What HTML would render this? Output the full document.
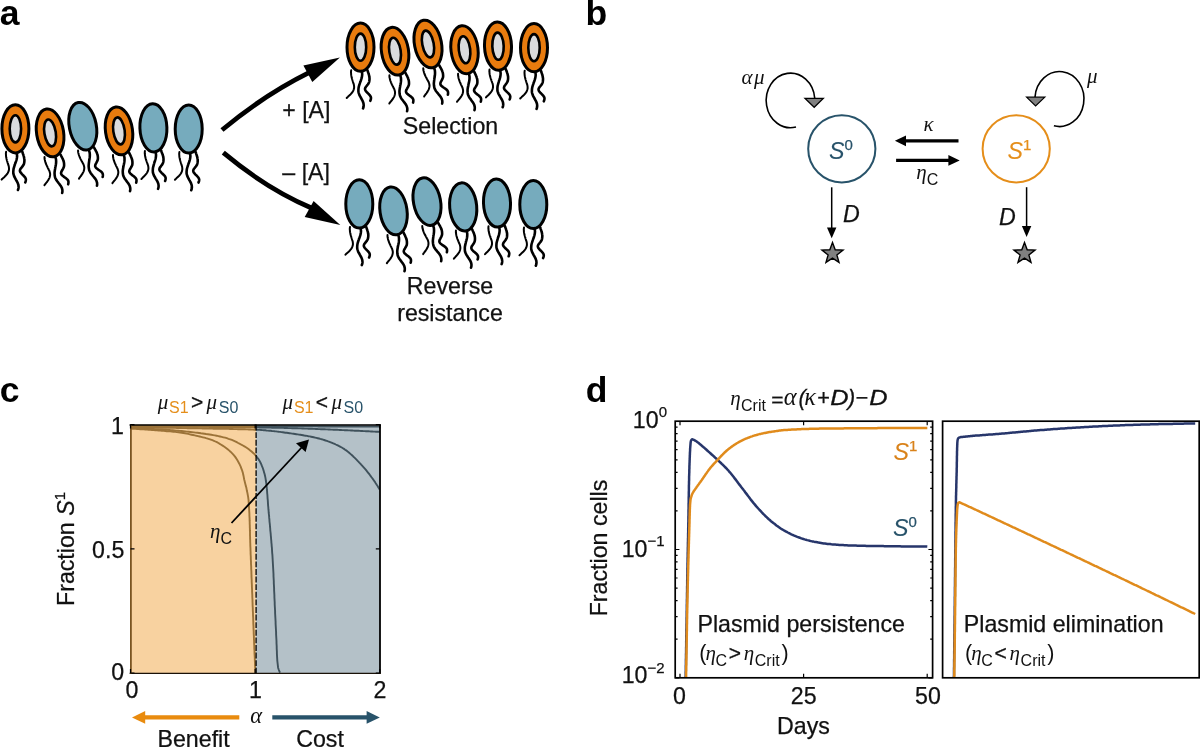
<!DOCTYPE html>
<html><head><meta charset="utf-8"><title>Figure</title>
<style>
html,body{margin:0;padding:0;background:#fff;}
svg{display:block}
.t{font-family:"Liberation Sans",sans-serif;font-size:23.2px;font-style:normal;fill:currentColor;stroke:currentColor;stroke-width:.25px}
.ti{font-family:"Liberation Sans",sans-serif;font-size:23.2px;font-style:italic;fill:currentColor;stroke:currentColor;stroke-width:.25px}
.g{font-family:"Liberation Serif",serif;font-size:21px;font-style:italic;fill:currentColor;stroke:none}
.sup{font-family:"Liberation Sans",sans-serif;font-size:15px;font-style:normal;stroke-width:.25px}
.subn{font-family:"Liberation Sans",sans-serif;font-size:16px;font-style:normal;stroke-width:.3px}
.lab{font-family:"Liberation Sans",sans-serif;font-size:35.5px;font-weight:bold;fill:#000}
.p{font-family:"Liberation Sans",sans-serif;font-size:21.5px;fill:currentColor}
.op{font-family:"Liberation Sans",sans-serif;font-size:21px;font-style:normal;fill:currentColor;stroke:currentColor;stroke-width:.3px}
.tit{font-family:"Liberation Sans",sans-serif;font-size:21.5px;font-style:italic;fill:currentColor;stroke:currentColor;stroke-width:.3px}
.g2{font-size:24.5px}
svg{color:#111}
</style></head><body>
<svg width="1200" height="747" viewBox="0 0 1200 747">
<rect width="1200" height="747" fill="#fff"/>
<g id="panel-a">
<g transform="translate(15.4,128.8) rotate(0)"><g fill="none" stroke="#000" stroke-width="2.6" stroke-linecap="round" stroke-linejoin="round"><path d="M-9.3,23.0 L-9.4,23.8 L-9.5,24.6 L-9.5,25.4 L-9.4,26.2 L-9.4,27.0 L-9.3,27.8 L-9.2,28.5 L-9.0,29.3 L-8.9,30.1 L-8.7,30.8 L-8.5,31.6 L-8.3,32.3 L-8.0,33.1 L-7.8,33.9 L-7.6,34.6 L-7.3,35.4 L-7.1,36.2 L-6.8,36.9 L-6.6,37.7 L-6.5,38.5 L-6.4,39.3 L-6.4,40.0 L-6.4,40.8 L-6.6,41.6 L-6.8,42.4 L-7.1,43.1 L-7.4,43.8 L-7.8,44.5 L-8.3,45.2 L-8.8,45.8 L-9.3,46.4 L-9.8,47.0 L-10.4,47.5 L-10.9,48.1 L-11.5,48.6 L-12.1,49.1 L-12.7,49.7 L-13.3,50.2 L-13.8,50.8" stroke-width="2"/><path d="M1.3,24.0 L1.5,25.1 L1.6,26.1 L1.7,27.2 L1.6,28.2 L1.5,29.1 L1.3,30.1 L1.1,31.0 L0.8,32.0 L0.5,32.9 L0.2,33.8 L-0.2,34.7 L-0.5,35.7 L-0.8,36.6 L-1.1,37.5 L-1.4,38.5 L-1.7,39.5 L-1.9,40.5 L-2.0,41.5 L-2.1,42.5 L-2.1,43.4 L-2.1,44.4 L-1.9,45.4 L-1.6,46.3 L-1.3,47.3 L-0.9,48.2 L-0.4,49.1 L0.1,50.0 L0.5,50.8 L1.0,51.7 L1.5,52.6 L2.0,53.5 L2.4,54.4 L2.7,55.3 L3.0,56.2 L3.1,57.2 L3.2,58.2 L3.1,59.1 L2.9,60.2 L2.5,61.2"/><path d="M6.9,23.0 L7.2,23.8 L7.4,24.6 L7.7,25.4 L8.0,26.2 L8.2,27.0 L8.5,27.9 L8.7,28.8 L8.8,29.7 L9.0,30.5 L9.0,31.4 L9.0,32.3 L8.9,33.2 L8.8,34.0 L8.6,34.9 L8.3,35.7 L7.8,36.5 L7.3,37.3 L6.7,38.0 L6.1,38.8 L5.5,39.5 L5.0,40.2 L4.7,40.9 L4.5,41.7 L4.6,42.4 L4.9,43.2 L5.4,43.9 L6.0,44.6 L6.6,45.3 L7.3,46.0 L8.0,46.7 L8.6,47.3 L9.2,48.0 L9.7,48.6 L10.1,49.3 L10.4,50.1 L10.5,50.8 L10.4,51.7 L10.2,52.6 L9.8,53.6"/></g><ellipse rx="13.5" ry="24.1" fill="#e87b0e" stroke="#000" stroke-width="3"/><ellipse rx="5.7" ry="13.6" fill="#dadbdd" stroke="#000" stroke-width="2.6"/></g>
<g transform="translate(50.1,132.9) rotate(-9)"><g fill="none" stroke="#000" stroke-width="2.6" stroke-linecap="round" stroke-linejoin="round"><path d="M-9.3,23.0 L-9.4,23.8 L-9.5,24.6 L-9.5,25.4 L-9.4,26.2 L-9.4,27.0 L-9.3,27.8 L-9.2,28.5 L-9.0,29.3 L-8.9,30.1 L-8.7,30.8 L-8.5,31.6 L-8.3,32.3 L-8.0,33.1 L-7.8,33.9 L-7.6,34.6 L-7.3,35.4 L-7.1,36.2 L-6.8,36.9 L-6.6,37.7 L-6.5,38.5 L-6.4,39.3 L-6.4,40.0 L-6.4,40.8 L-6.6,41.6 L-6.8,42.4 L-7.1,43.1 L-7.4,43.8 L-7.8,44.5 L-8.3,45.2 L-8.8,45.8 L-9.3,46.4 L-9.8,47.0 L-10.4,47.5 L-10.9,48.1 L-11.5,48.6 L-12.1,49.1 L-12.7,49.7 L-13.3,50.2 L-13.8,50.8" stroke-width="2"/><path d="M1.3,24.0 L1.5,25.1 L1.6,26.1 L1.7,27.2 L1.6,28.2 L1.5,29.1 L1.3,30.1 L1.1,31.0 L0.8,32.0 L0.5,32.9 L0.2,33.8 L-0.2,34.7 L-0.5,35.7 L-0.8,36.6 L-1.1,37.5 L-1.4,38.5 L-1.7,39.5 L-1.9,40.5 L-2.0,41.5 L-2.1,42.5 L-2.1,43.4 L-2.1,44.4 L-1.9,45.4 L-1.6,46.3 L-1.3,47.3 L-0.9,48.2 L-0.4,49.1 L0.1,50.0 L0.5,50.8 L1.0,51.7 L1.5,52.6 L2.0,53.5 L2.4,54.4 L2.7,55.3 L3.0,56.2 L3.1,57.2 L3.2,58.2 L3.1,59.1 L2.9,60.2 L2.5,61.2"/><path d="M6.9,23.0 L7.2,23.8 L7.4,24.6 L7.7,25.4 L8.0,26.2 L8.2,27.0 L8.5,27.9 L8.7,28.8 L8.8,29.7 L9.0,30.5 L9.0,31.4 L9.0,32.3 L8.9,33.2 L8.8,34.0 L8.6,34.9 L8.3,35.7 L7.8,36.5 L7.3,37.3 L6.7,38.0 L6.1,38.8 L5.5,39.5 L5.0,40.2 L4.7,40.9 L4.5,41.7 L4.6,42.4 L4.9,43.2 L5.4,43.9 L6.0,44.6 L6.6,45.3 L7.3,46.0 L8.0,46.7 L8.6,47.3 L9.2,48.0 L9.7,48.6 L10.1,49.3 L10.4,50.1 L10.5,50.8 L10.4,51.7 L10.2,52.6 L9.8,53.6"/></g><ellipse rx="13.5" ry="24.1" fill="#e87b0e" stroke="#000" stroke-width="3"/><ellipse rx="5.7" ry="13.6" fill="#dadbdd" stroke="#000" stroke-width="2.6"/></g>
<g transform="translate(82.8,126.2) rotate(-11)"><g fill="none" stroke="#000" stroke-width="2.6" stroke-linecap="round" stroke-linejoin="round"><path d="M-9.3,23.0 L-9.4,23.8 L-9.5,24.6 L-9.5,25.4 L-9.4,26.2 L-9.4,27.0 L-9.3,27.8 L-9.2,28.5 L-9.0,29.3 L-8.9,30.1 L-8.7,30.8 L-8.5,31.6 L-8.3,32.3 L-8.0,33.1 L-7.8,33.9 L-7.6,34.6 L-7.3,35.4 L-7.1,36.2 L-6.8,36.9 L-6.6,37.7 L-6.5,38.5 L-6.4,39.3 L-6.4,40.0 L-6.4,40.8 L-6.6,41.6 L-6.8,42.4 L-7.1,43.1 L-7.4,43.8 L-7.8,44.5 L-8.3,45.2 L-8.8,45.8 L-9.3,46.4 L-9.8,47.0 L-10.4,47.5 L-10.9,48.1 L-11.5,48.6 L-12.1,49.1 L-12.7,49.7 L-13.3,50.2 L-13.8,50.8" stroke-width="2"/><path d="M1.3,24.0 L1.5,25.1 L1.6,26.1 L1.7,27.2 L1.6,28.2 L1.5,29.1 L1.3,30.1 L1.1,31.0 L0.8,32.0 L0.5,32.9 L0.2,33.8 L-0.2,34.7 L-0.5,35.7 L-0.8,36.6 L-1.1,37.5 L-1.4,38.5 L-1.7,39.5 L-1.9,40.5 L-2.0,41.5 L-2.1,42.5 L-2.1,43.4 L-2.1,44.4 L-1.9,45.4 L-1.6,46.3 L-1.3,47.3 L-0.9,48.2 L-0.4,49.1 L0.1,50.0 L0.5,50.8 L1.0,51.7 L1.5,52.6 L2.0,53.5 L2.4,54.4 L2.7,55.3 L3.0,56.2 L3.1,57.2 L3.2,58.2 L3.1,59.1 L2.9,60.2 L2.5,61.2"/><path d="M6.9,23.0 L7.2,23.8 L7.4,24.6 L7.7,25.4 L8.0,26.2 L8.2,27.0 L8.5,27.9 L8.7,28.8 L8.8,29.7 L9.0,30.5 L9.0,31.4 L9.0,32.3 L8.9,33.2 L8.8,34.0 L8.6,34.9 L8.3,35.7 L7.8,36.5 L7.3,37.3 L6.7,38.0 L6.1,38.8 L5.5,39.5 L5.0,40.2 L4.7,40.9 L4.5,41.7 L4.6,42.4 L4.9,43.2 L5.4,43.9 L6.0,44.6 L6.6,45.3 L7.3,46.0 L8.0,46.7 L8.6,47.3 L9.2,48.0 L9.7,48.6 L10.1,49.3 L10.4,50.1 L10.5,50.8 L10.4,51.7 L10.2,52.6 L9.8,53.6"/></g><ellipse rx="13.5" ry="24.1" fill="#76abbd" stroke="#000" stroke-width="3"/></g>
<g transform="translate(119,130.9) rotate(-8)"><g fill="none" stroke="#000" stroke-width="2.6" stroke-linecap="round" stroke-linejoin="round"><path d="M-9.3,23.0 L-9.4,23.8 L-9.5,24.6 L-9.5,25.4 L-9.4,26.2 L-9.4,27.0 L-9.3,27.8 L-9.2,28.5 L-9.0,29.3 L-8.9,30.1 L-8.7,30.8 L-8.5,31.6 L-8.3,32.3 L-8.0,33.1 L-7.8,33.9 L-7.6,34.6 L-7.3,35.4 L-7.1,36.2 L-6.8,36.9 L-6.6,37.7 L-6.5,38.5 L-6.4,39.3 L-6.4,40.0 L-6.4,40.8 L-6.6,41.6 L-6.8,42.4 L-7.1,43.1 L-7.4,43.8 L-7.8,44.5 L-8.3,45.2 L-8.8,45.8 L-9.3,46.4 L-9.8,47.0 L-10.4,47.5 L-10.9,48.1 L-11.5,48.6 L-12.1,49.1 L-12.7,49.7 L-13.3,50.2 L-13.8,50.8" stroke-width="2"/><path d="M1.3,24.0 L1.5,25.1 L1.6,26.1 L1.7,27.2 L1.6,28.2 L1.5,29.1 L1.3,30.1 L1.1,31.0 L0.8,32.0 L0.5,32.9 L0.2,33.8 L-0.2,34.7 L-0.5,35.7 L-0.8,36.6 L-1.1,37.5 L-1.4,38.5 L-1.7,39.5 L-1.9,40.5 L-2.0,41.5 L-2.1,42.5 L-2.1,43.4 L-2.1,44.4 L-1.9,45.4 L-1.6,46.3 L-1.3,47.3 L-0.9,48.2 L-0.4,49.1 L0.1,50.0 L0.5,50.8 L1.0,51.7 L1.5,52.6 L2.0,53.5 L2.4,54.4 L2.7,55.3 L3.0,56.2 L3.1,57.2 L3.2,58.2 L3.1,59.1 L2.9,60.2 L2.5,61.2"/><path d="M6.9,23.0 L7.2,23.8 L7.4,24.6 L7.7,25.4 L8.0,26.2 L8.2,27.0 L8.5,27.9 L8.7,28.8 L8.8,29.7 L9.0,30.5 L9.0,31.4 L9.0,32.3 L8.9,33.2 L8.8,34.0 L8.6,34.9 L8.3,35.7 L7.8,36.5 L7.3,37.3 L6.7,38.0 L6.1,38.8 L5.5,39.5 L5.0,40.2 L4.7,40.9 L4.5,41.7 L4.6,42.4 L4.9,43.2 L5.4,43.9 L6.0,44.6 L6.6,45.3 L7.3,46.0 L8.0,46.7 L8.6,47.3 L9.2,48.0 L9.7,48.6 L10.1,49.3 L10.4,50.1 L10.5,50.8 L10.4,51.7 L10.2,52.6 L9.8,53.6"/></g><ellipse rx="13.5" ry="24.1" fill="#e87b0e" stroke="#000" stroke-width="3"/><ellipse rx="5.7" ry="13.6" fill="#dadbdd" stroke="#000" stroke-width="2.6"/></g>
<g transform="translate(153.4,127.8) rotate(-2)"><g fill="none" stroke="#000" stroke-width="2.6" stroke-linecap="round" stroke-linejoin="round"><path d="M-9.3,23.0 L-9.4,23.8 L-9.5,24.6 L-9.5,25.4 L-9.4,26.2 L-9.4,27.0 L-9.3,27.8 L-9.2,28.5 L-9.0,29.3 L-8.9,30.1 L-8.7,30.8 L-8.5,31.6 L-8.3,32.3 L-8.0,33.1 L-7.8,33.9 L-7.6,34.6 L-7.3,35.4 L-7.1,36.2 L-6.8,36.9 L-6.6,37.7 L-6.5,38.5 L-6.4,39.3 L-6.4,40.0 L-6.4,40.8 L-6.6,41.6 L-6.8,42.4 L-7.1,43.1 L-7.4,43.8 L-7.8,44.5 L-8.3,45.2 L-8.8,45.8 L-9.3,46.4 L-9.8,47.0 L-10.4,47.5 L-10.9,48.1 L-11.5,48.6 L-12.1,49.1 L-12.7,49.7 L-13.3,50.2 L-13.8,50.8" stroke-width="2"/><path d="M1.3,24.0 L1.5,25.1 L1.6,26.1 L1.7,27.2 L1.6,28.2 L1.5,29.1 L1.3,30.1 L1.1,31.0 L0.8,32.0 L0.5,32.9 L0.2,33.8 L-0.2,34.7 L-0.5,35.7 L-0.8,36.6 L-1.1,37.5 L-1.4,38.5 L-1.7,39.5 L-1.9,40.5 L-2.0,41.5 L-2.1,42.5 L-2.1,43.4 L-2.1,44.4 L-1.9,45.4 L-1.6,46.3 L-1.3,47.3 L-0.9,48.2 L-0.4,49.1 L0.1,50.0 L0.5,50.8 L1.0,51.7 L1.5,52.6 L2.0,53.5 L2.4,54.4 L2.7,55.3 L3.0,56.2 L3.1,57.2 L3.2,58.2 L3.1,59.1 L2.9,60.2 L2.5,61.2"/><path d="M6.9,23.0 L7.2,23.8 L7.4,24.6 L7.7,25.4 L8.0,26.2 L8.2,27.0 L8.5,27.9 L8.7,28.8 L8.8,29.7 L9.0,30.5 L9.0,31.4 L9.0,32.3 L8.9,33.2 L8.8,34.0 L8.6,34.9 L8.3,35.7 L7.8,36.5 L7.3,37.3 L6.7,38.0 L6.1,38.8 L5.5,39.5 L5.0,40.2 L4.7,40.9 L4.5,41.7 L4.6,42.4 L4.9,43.2 L5.4,43.9 L6.0,44.6 L6.6,45.3 L7.3,46.0 L8.0,46.7 L8.6,47.3 L9.2,48.0 L9.7,48.6 L10.1,49.3 L10.4,50.1 L10.5,50.8 L10.4,51.7 L10.2,52.6 L9.8,53.6"/></g><ellipse rx="13.5" ry="24.1" fill="#76abbd" stroke="#000" stroke-width="3"/></g>
<g transform="translate(188.7,129) rotate(0)"><g fill="none" stroke="#000" stroke-width="2.6" stroke-linecap="round" stroke-linejoin="round"><path d="M-9.3,23.0 L-9.4,23.8 L-9.5,24.6 L-9.5,25.4 L-9.4,26.2 L-9.4,27.0 L-9.3,27.8 L-9.2,28.5 L-9.0,29.3 L-8.9,30.1 L-8.7,30.8 L-8.5,31.6 L-8.3,32.3 L-8.0,33.1 L-7.8,33.9 L-7.6,34.6 L-7.3,35.4 L-7.1,36.2 L-6.8,36.9 L-6.6,37.7 L-6.5,38.5 L-6.4,39.3 L-6.4,40.0 L-6.4,40.8 L-6.6,41.6 L-6.8,42.4 L-7.1,43.1 L-7.4,43.8 L-7.8,44.5 L-8.3,45.2 L-8.8,45.8 L-9.3,46.4 L-9.8,47.0 L-10.4,47.5 L-10.9,48.1 L-11.5,48.6 L-12.1,49.1 L-12.7,49.7 L-13.3,50.2 L-13.8,50.8" stroke-width="2"/><path d="M1.3,24.0 L1.5,25.1 L1.6,26.1 L1.7,27.2 L1.6,28.2 L1.5,29.1 L1.3,30.1 L1.1,31.0 L0.8,32.0 L0.5,32.9 L0.2,33.8 L-0.2,34.7 L-0.5,35.7 L-0.8,36.6 L-1.1,37.5 L-1.4,38.5 L-1.7,39.5 L-1.9,40.5 L-2.0,41.5 L-2.1,42.5 L-2.1,43.4 L-2.1,44.4 L-1.9,45.4 L-1.6,46.3 L-1.3,47.3 L-0.9,48.2 L-0.4,49.1 L0.1,50.0 L0.5,50.8 L1.0,51.7 L1.5,52.6 L2.0,53.5 L2.4,54.4 L2.7,55.3 L3.0,56.2 L3.1,57.2 L3.2,58.2 L3.1,59.1 L2.9,60.2 L2.5,61.2"/><path d="M6.9,23.0 L7.2,23.8 L7.4,24.6 L7.7,25.4 L8.0,26.2 L8.2,27.0 L8.5,27.9 L8.7,28.8 L8.8,29.7 L9.0,30.5 L9.0,31.4 L9.0,32.3 L8.9,33.2 L8.8,34.0 L8.6,34.9 L8.3,35.7 L7.8,36.5 L7.3,37.3 L6.7,38.0 L6.1,38.8 L5.5,39.5 L5.0,40.2 L4.7,40.9 L4.5,41.7 L4.6,42.4 L4.9,43.2 L5.4,43.9 L6.0,44.6 L6.6,45.3 L7.3,46.0 L8.0,46.7 L8.6,47.3 L9.2,48.0 L9.7,48.6 L10.1,49.3 L10.4,50.1 L10.5,50.8 L10.4,51.7 L10.2,52.6 L9.8,53.6"/></g><ellipse rx="13.5" ry="24.1" fill="#76abbd" stroke="#000" stroke-width="3"/></g>
<g transform="translate(360.5,47.2) rotate(0)"><g fill="none" stroke="#000" stroke-width="2.6" stroke-linecap="round" stroke-linejoin="round"><path d="M-9.3,23.0 L-9.4,23.8 L-9.5,24.6 L-9.5,25.4 L-9.4,26.2 L-9.4,27.0 L-9.3,27.8 L-9.2,28.5 L-9.0,29.3 L-8.9,30.1 L-8.7,30.8 L-8.5,31.6 L-8.3,32.3 L-8.0,33.1 L-7.8,33.9 L-7.6,34.6 L-7.3,35.4 L-7.1,36.2 L-6.8,36.9 L-6.6,37.7 L-6.5,38.5 L-6.4,39.3 L-6.4,40.0 L-6.4,40.8 L-6.6,41.6 L-6.8,42.4 L-7.1,43.1 L-7.4,43.8 L-7.8,44.5 L-8.3,45.2 L-8.8,45.8 L-9.3,46.4 L-9.8,47.0 L-10.4,47.5 L-10.9,48.1 L-11.5,48.6 L-12.1,49.1 L-12.7,49.7 L-13.3,50.2 L-13.8,50.8" stroke-width="2"/><path d="M1.3,24.0 L1.5,25.1 L1.6,26.1 L1.7,27.2 L1.6,28.2 L1.5,29.1 L1.3,30.1 L1.1,31.0 L0.8,32.0 L0.5,32.9 L0.2,33.8 L-0.2,34.7 L-0.5,35.7 L-0.8,36.6 L-1.1,37.5 L-1.4,38.5 L-1.7,39.5 L-1.9,40.5 L-2.0,41.5 L-2.1,42.5 L-2.1,43.4 L-2.1,44.4 L-1.9,45.4 L-1.6,46.3 L-1.3,47.3 L-0.9,48.2 L-0.4,49.1 L0.1,50.0 L0.5,50.8 L1.0,51.7 L1.5,52.6 L2.0,53.5 L2.4,54.4 L2.7,55.3 L3.0,56.2 L3.1,57.2 L3.2,58.2 L3.1,59.1 L2.9,60.2 L2.5,61.2"/><path d="M6.9,23.0 L7.2,23.8 L7.4,24.6 L7.7,25.4 L8.0,26.2 L8.2,27.0 L8.5,27.9 L8.7,28.8 L8.8,29.7 L9.0,30.5 L9.0,31.4 L9.0,32.3 L8.9,33.2 L8.8,34.0 L8.6,34.9 L8.3,35.7 L7.8,36.5 L7.3,37.3 L6.7,38.0 L6.1,38.8 L5.5,39.5 L5.0,40.2 L4.7,40.9 L4.5,41.7 L4.6,42.4 L4.9,43.2 L5.4,43.9 L6.0,44.6 L6.6,45.3 L7.3,46.0 L8.0,46.7 L8.6,47.3 L9.2,48.0 L9.7,48.6 L10.1,49.3 L10.4,50.1 L10.5,50.8 L10.4,51.7 L10.2,52.6 L9.8,53.6"/></g><ellipse rx="13.5" ry="24.1" fill="#e87b0e" stroke="#000" stroke-width="3"/><ellipse rx="5.7" ry="13.6" fill="#dadbdd" stroke="#000" stroke-width="2.6"/></g>
<g transform="translate(395,51.2) rotate(-9)"><g fill="none" stroke="#000" stroke-width="2.6" stroke-linecap="round" stroke-linejoin="round"><path d="M-9.3,23.0 L-9.4,23.8 L-9.5,24.6 L-9.5,25.4 L-9.4,26.2 L-9.4,27.0 L-9.3,27.8 L-9.2,28.5 L-9.0,29.3 L-8.9,30.1 L-8.7,30.8 L-8.5,31.6 L-8.3,32.3 L-8.0,33.1 L-7.8,33.9 L-7.6,34.6 L-7.3,35.4 L-7.1,36.2 L-6.8,36.9 L-6.6,37.7 L-6.5,38.5 L-6.4,39.3 L-6.4,40.0 L-6.4,40.8 L-6.6,41.6 L-6.8,42.4 L-7.1,43.1 L-7.4,43.8 L-7.8,44.5 L-8.3,45.2 L-8.8,45.8 L-9.3,46.4 L-9.8,47.0 L-10.4,47.5 L-10.9,48.1 L-11.5,48.6 L-12.1,49.1 L-12.7,49.7 L-13.3,50.2 L-13.8,50.8" stroke-width="2"/><path d="M1.3,24.0 L1.5,25.1 L1.6,26.1 L1.7,27.2 L1.6,28.2 L1.5,29.1 L1.3,30.1 L1.1,31.0 L0.8,32.0 L0.5,32.9 L0.2,33.8 L-0.2,34.7 L-0.5,35.7 L-0.8,36.6 L-1.1,37.5 L-1.4,38.5 L-1.7,39.5 L-1.9,40.5 L-2.0,41.5 L-2.1,42.5 L-2.1,43.4 L-2.1,44.4 L-1.9,45.4 L-1.6,46.3 L-1.3,47.3 L-0.9,48.2 L-0.4,49.1 L0.1,50.0 L0.5,50.8 L1.0,51.7 L1.5,52.6 L2.0,53.5 L2.4,54.4 L2.7,55.3 L3.0,56.2 L3.1,57.2 L3.2,58.2 L3.1,59.1 L2.9,60.2 L2.5,61.2"/><path d="M6.9,23.0 L7.2,23.8 L7.4,24.6 L7.7,25.4 L8.0,26.2 L8.2,27.0 L8.5,27.9 L8.7,28.8 L8.8,29.7 L9.0,30.5 L9.0,31.4 L9.0,32.3 L8.9,33.2 L8.8,34.0 L8.6,34.9 L8.3,35.7 L7.8,36.5 L7.3,37.3 L6.7,38.0 L6.1,38.8 L5.5,39.5 L5.0,40.2 L4.7,40.9 L4.5,41.7 L4.6,42.4 L4.9,43.2 L5.4,43.9 L6.0,44.6 L6.6,45.3 L7.3,46.0 L8.0,46.7 L8.6,47.3 L9.2,48.0 L9.7,48.6 L10.1,49.3 L10.4,50.1 L10.5,50.8 L10.4,51.7 L10.2,52.6 L9.8,53.6"/></g><ellipse rx="13.5" ry="24.1" fill="#e87b0e" stroke="#000" stroke-width="3"/><ellipse rx="5.7" ry="13.6" fill="#dadbdd" stroke="#000" stroke-width="2.6"/></g>
<g transform="translate(428,44) rotate(-11)"><g fill="none" stroke="#000" stroke-width="2.6" stroke-linecap="round" stroke-linejoin="round"><path d="M-9.3,23.0 L-9.4,23.8 L-9.5,24.6 L-9.5,25.4 L-9.4,26.2 L-9.4,27.0 L-9.3,27.8 L-9.2,28.5 L-9.0,29.3 L-8.9,30.1 L-8.7,30.8 L-8.5,31.6 L-8.3,32.3 L-8.0,33.1 L-7.8,33.9 L-7.6,34.6 L-7.3,35.4 L-7.1,36.2 L-6.8,36.9 L-6.6,37.7 L-6.5,38.5 L-6.4,39.3 L-6.4,40.0 L-6.4,40.8 L-6.6,41.6 L-6.8,42.4 L-7.1,43.1 L-7.4,43.8 L-7.8,44.5 L-8.3,45.2 L-8.8,45.8 L-9.3,46.4 L-9.8,47.0 L-10.4,47.5 L-10.9,48.1 L-11.5,48.6 L-12.1,49.1 L-12.7,49.7 L-13.3,50.2 L-13.8,50.8" stroke-width="2"/><path d="M1.3,24.0 L1.5,25.1 L1.6,26.1 L1.7,27.2 L1.6,28.2 L1.5,29.1 L1.3,30.1 L1.1,31.0 L0.8,32.0 L0.5,32.9 L0.2,33.8 L-0.2,34.7 L-0.5,35.7 L-0.8,36.6 L-1.1,37.5 L-1.4,38.5 L-1.7,39.5 L-1.9,40.5 L-2.0,41.5 L-2.1,42.5 L-2.1,43.4 L-2.1,44.4 L-1.9,45.4 L-1.6,46.3 L-1.3,47.3 L-0.9,48.2 L-0.4,49.1 L0.1,50.0 L0.5,50.8 L1.0,51.7 L1.5,52.6 L2.0,53.5 L2.4,54.4 L2.7,55.3 L3.0,56.2 L3.1,57.2 L3.2,58.2 L3.1,59.1 L2.9,60.2 L2.5,61.2"/><path d="M6.9,23.0 L7.2,23.8 L7.4,24.6 L7.7,25.4 L8.0,26.2 L8.2,27.0 L8.5,27.9 L8.7,28.8 L8.8,29.7 L9.0,30.5 L9.0,31.4 L9.0,32.3 L8.9,33.2 L8.8,34.0 L8.6,34.9 L8.3,35.7 L7.8,36.5 L7.3,37.3 L6.7,38.0 L6.1,38.8 L5.5,39.5 L5.0,40.2 L4.7,40.9 L4.5,41.7 L4.6,42.4 L4.9,43.2 L5.4,43.9 L6.0,44.6 L6.6,45.3 L7.3,46.0 L8.0,46.7 L8.6,47.3 L9.2,48.0 L9.7,48.6 L10.1,49.3 L10.4,50.1 L10.5,50.8 L10.4,51.7 L10.2,52.6 L9.8,53.6"/></g><ellipse rx="13.5" ry="24.1" fill="#e87b0e" stroke="#000" stroke-width="3"/><ellipse rx="5.7" ry="13.6" fill="#dadbdd" stroke="#000" stroke-width="2.6"/></g>
<g transform="translate(464.5,49.7) rotate(-7)"><g fill="none" stroke="#000" stroke-width="2.6" stroke-linecap="round" stroke-linejoin="round"><path d="M-9.3,23.0 L-9.4,23.8 L-9.5,24.6 L-9.5,25.4 L-9.4,26.2 L-9.4,27.0 L-9.3,27.8 L-9.2,28.5 L-9.0,29.3 L-8.9,30.1 L-8.7,30.8 L-8.5,31.6 L-8.3,32.3 L-8.0,33.1 L-7.8,33.9 L-7.6,34.6 L-7.3,35.4 L-7.1,36.2 L-6.8,36.9 L-6.6,37.7 L-6.5,38.5 L-6.4,39.3 L-6.4,40.0 L-6.4,40.8 L-6.6,41.6 L-6.8,42.4 L-7.1,43.1 L-7.4,43.8 L-7.8,44.5 L-8.3,45.2 L-8.8,45.8 L-9.3,46.4 L-9.8,47.0 L-10.4,47.5 L-10.9,48.1 L-11.5,48.6 L-12.1,49.1 L-12.7,49.7 L-13.3,50.2 L-13.8,50.8" stroke-width="2"/><path d="M1.3,24.0 L1.5,25.1 L1.6,26.1 L1.7,27.2 L1.6,28.2 L1.5,29.1 L1.3,30.1 L1.1,31.0 L0.8,32.0 L0.5,32.9 L0.2,33.8 L-0.2,34.7 L-0.5,35.7 L-0.8,36.6 L-1.1,37.5 L-1.4,38.5 L-1.7,39.5 L-1.9,40.5 L-2.0,41.5 L-2.1,42.5 L-2.1,43.4 L-2.1,44.4 L-1.9,45.4 L-1.6,46.3 L-1.3,47.3 L-0.9,48.2 L-0.4,49.1 L0.1,50.0 L0.5,50.8 L1.0,51.7 L1.5,52.6 L2.0,53.5 L2.4,54.4 L2.7,55.3 L3.0,56.2 L3.1,57.2 L3.2,58.2 L3.1,59.1 L2.9,60.2 L2.5,61.2"/><path d="M6.9,23.0 L7.2,23.8 L7.4,24.6 L7.7,25.4 L8.0,26.2 L8.2,27.0 L8.5,27.9 L8.7,28.8 L8.8,29.7 L9.0,30.5 L9.0,31.4 L9.0,32.3 L8.9,33.2 L8.8,34.0 L8.6,34.9 L8.3,35.7 L7.8,36.5 L7.3,37.3 L6.7,38.0 L6.1,38.8 L5.5,39.5 L5.0,40.2 L4.7,40.9 L4.5,41.7 L4.6,42.4 L4.9,43.2 L5.4,43.9 L6.0,44.6 L6.6,45.3 L7.3,46.0 L8.0,46.7 L8.6,47.3 L9.2,48.0 L9.7,48.6 L10.1,49.3 L10.4,50.1 L10.5,50.8 L10.4,51.7 L10.2,52.6 L9.8,53.6"/></g><ellipse rx="13.5" ry="24.1" fill="#e87b0e" stroke="#000" stroke-width="3"/><ellipse rx="5.7" ry="13.6" fill="#dadbdd" stroke="#000" stroke-width="2.6"/></g>
<g transform="translate(498,46.2) rotate(-2)"><g fill="none" stroke="#000" stroke-width="2.6" stroke-linecap="round" stroke-linejoin="round"><path d="M-9.3,23.0 L-9.4,23.8 L-9.5,24.6 L-9.5,25.4 L-9.4,26.2 L-9.4,27.0 L-9.3,27.8 L-9.2,28.5 L-9.0,29.3 L-8.9,30.1 L-8.7,30.8 L-8.5,31.6 L-8.3,32.3 L-8.0,33.1 L-7.8,33.9 L-7.6,34.6 L-7.3,35.4 L-7.1,36.2 L-6.8,36.9 L-6.6,37.7 L-6.5,38.5 L-6.4,39.3 L-6.4,40.0 L-6.4,40.8 L-6.6,41.6 L-6.8,42.4 L-7.1,43.1 L-7.4,43.8 L-7.8,44.5 L-8.3,45.2 L-8.8,45.8 L-9.3,46.4 L-9.8,47.0 L-10.4,47.5 L-10.9,48.1 L-11.5,48.6 L-12.1,49.1 L-12.7,49.7 L-13.3,50.2 L-13.8,50.8" stroke-width="2"/><path d="M1.3,24.0 L1.5,25.1 L1.6,26.1 L1.7,27.2 L1.6,28.2 L1.5,29.1 L1.3,30.1 L1.1,31.0 L0.8,32.0 L0.5,32.9 L0.2,33.8 L-0.2,34.7 L-0.5,35.7 L-0.8,36.6 L-1.1,37.5 L-1.4,38.5 L-1.7,39.5 L-1.9,40.5 L-2.0,41.5 L-2.1,42.5 L-2.1,43.4 L-2.1,44.4 L-1.9,45.4 L-1.6,46.3 L-1.3,47.3 L-0.9,48.2 L-0.4,49.1 L0.1,50.0 L0.5,50.8 L1.0,51.7 L1.5,52.6 L2.0,53.5 L2.4,54.4 L2.7,55.3 L3.0,56.2 L3.1,57.2 L3.2,58.2 L3.1,59.1 L2.9,60.2 L2.5,61.2"/><path d="M6.9,23.0 L7.2,23.8 L7.4,24.6 L7.7,25.4 L8.0,26.2 L8.2,27.0 L8.5,27.9 L8.7,28.8 L8.8,29.7 L9.0,30.5 L9.0,31.4 L9.0,32.3 L8.9,33.2 L8.8,34.0 L8.6,34.9 L8.3,35.7 L7.8,36.5 L7.3,37.3 L6.7,38.0 L6.1,38.8 L5.5,39.5 L5.0,40.2 L4.7,40.9 L4.5,41.7 L4.6,42.4 L4.9,43.2 L5.4,43.9 L6.0,44.6 L6.6,45.3 L7.3,46.0 L8.0,46.7 L8.6,47.3 L9.2,48.0 L9.7,48.6 L10.1,49.3 L10.4,50.1 L10.5,50.8 L10.4,51.7 L10.2,52.6 L9.8,53.6"/></g><ellipse rx="13.5" ry="24.1" fill="#e87b0e" stroke="#000" stroke-width="3"/><ellipse rx="5.7" ry="13.6" fill="#dadbdd" stroke="#000" stroke-width="2.6"/></g>
<g transform="translate(534,47.7) rotate(0)"><g fill="none" stroke="#000" stroke-width="2.6" stroke-linecap="round" stroke-linejoin="round"><path d="M-9.3,23.0 L-9.4,23.8 L-9.5,24.6 L-9.5,25.4 L-9.4,26.2 L-9.4,27.0 L-9.3,27.8 L-9.2,28.5 L-9.0,29.3 L-8.9,30.1 L-8.7,30.8 L-8.5,31.6 L-8.3,32.3 L-8.0,33.1 L-7.8,33.9 L-7.6,34.6 L-7.3,35.4 L-7.1,36.2 L-6.8,36.9 L-6.6,37.7 L-6.5,38.5 L-6.4,39.3 L-6.4,40.0 L-6.4,40.8 L-6.6,41.6 L-6.8,42.4 L-7.1,43.1 L-7.4,43.8 L-7.8,44.5 L-8.3,45.2 L-8.8,45.8 L-9.3,46.4 L-9.8,47.0 L-10.4,47.5 L-10.9,48.1 L-11.5,48.6 L-12.1,49.1 L-12.7,49.7 L-13.3,50.2 L-13.8,50.8" stroke-width="2"/><path d="M1.3,24.0 L1.5,25.1 L1.6,26.1 L1.7,27.2 L1.6,28.2 L1.5,29.1 L1.3,30.1 L1.1,31.0 L0.8,32.0 L0.5,32.9 L0.2,33.8 L-0.2,34.7 L-0.5,35.7 L-0.8,36.6 L-1.1,37.5 L-1.4,38.5 L-1.7,39.5 L-1.9,40.5 L-2.0,41.5 L-2.1,42.5 L-2.1,43.4 L-2.1,44.4 L-1.9,45.4 L-1.6,46.3 L-1.3,47.3 L-0.9,48.2 L-0.4,49.1 L0.1,50.0 L0.5,50.8 L1.0,51.7 L1.5,52.6 L2.0,53.5 L2.4,54.4 L2.7,55.3 L3.0,56.2 L3.1,57.2 L3.2,58.2 L3.1,59.1 L2.9,60.2 L2.5,61.2"/><path d="M6.9,23.0 L7.2,23.8 L7.4,24.6 L7.7,25.4 L8.0,26.2 L8.2,27.0 L8.5,27.9 L8.7,28.8 L8.8,29.7 L9.0,30.5 L9.0,31.4 L9.0,32.3 L8.9,33.2 L8.8,34.0 L8.6,34.9 L8.3,35.7 L7.8,36.5 L7.3,37.3 L6.7,38.0 L6.1,38.8 L5.5,39.5 L5.0,40.2 L4.7,40.9 L4.5,41.7 L4.6,42.4 L4.9,43.2 L5.4,43.9 L6.0,44.6 L6.6,45.3 L7.3,46.0 L8.0,46.7 L8.6,47.3 L9.2,48.0 L9.7,48.6 L10.1,49.3 L10.4,50.1 L10.5,50.8 L10.4,51.7 L10.2,52.6 L9.8,53.6"/></g><ellipse rx="13.5" ry="24.1" fill="#e87b0e" stroke="#000" stroke-width="3"/><ellipse rx="5.7" ry="13.6" fill="#dadbdd" stroke="#000" stroke-width="2.6"/></g>
<g transform="translate(359.3,203.9) rotate(0)"><g fill="none" stroke="#000" stroke-width="2.6" stroke-linecap="round" stroke-linejoin="round"><path d="M-9.3,23.0 L-9.4,23.8 L-9.5,24.6 L-9.5,25.4 L-9.4,26.2 L-9.4,27.0 L-9.3,27.8 L-9.2,28.5 L-9.0,29.3 L-8.9,30.1 L-8.7,30.8 L-8.5,31.6 L-8.3,32.3 L-8.0,33.1 L-7.8,33.9 L-7.6,34.6 L-7.3,35.4 L-7.1,36.2 L-6.8,36.9 L-6.6,37.7 L-6.5,38.5 L-6.4,39.3 L-6.4,40.0 L-6.4,40.8 L-6.6,41.6 L-6.8,42.4 L-7.1,43.1 L-7.4,43.8 L-7.8,44.5 L-8.3,45.2 L-8.8,45.8 L-9.3,46.4 L-9.8,47.0 L-10.4,47.5 L-10.9,48.1 L-11.5,48.6 L-12.1,49.1 L-12.7,49.7 L-13.3,50.2 L-13.8,50.8" stroke-width="2"/><path d="M1.3,24.0 L1.5,25.1 L1.6,26.1 L1.7,27.2 L1.6,28.2 L1.5,29.1 L1.3,30.1 L1.1,31.0 L0.8,32.0 L0.5,32.9 L0.2,33.8 L-0.2,34.7 L-0.5,35.7 L-0.8,36.6 L-1.1,37.5 L-1.4,38.5 L-1.7,39.5 L-1.9,40.5 L-2.0,41.5 L-2.1,42.5 L-2.1,43.4 L-2.1,44.4 L-1.9,45.4 L-1.6,46.3 L-1.3,47.3 L-0.9,48.2 L-0.4,49.1 L0.1,50.0 L0.5,50.8 L1.0,51.7 L1.5,52.6 L2.0,53.5 L2.4,54.4 L2.7,55.3 L3.0,56.2 L3.1,57.2 L3.2,58.2 L3.1,59.1 L2.9,60.2 L2.5,61.2"/><path d="M6.9,23.0 L7.2,23.8 L7.4,24.6 L7.7,25.4 L8.0,26.2 L8.2,27.0 L8.5,27.9 L8.7,28.8 L8.8,29.7 L9.0,30.5 L9.0,31.4 L9.0,32.3 L8.9,33.2 L8.8,34.0 L8.6,34.9 L8.3,35.7 L7.8,36.5 L7.3,37.3 L6.7,38.0 L6.1,38.8 L5.5,39.5 L5.0,40.2 L4.7,40.9 L4.5,41.7 L4.6,42.4 L4.9,43.2 L5.4,43.9 L6.0,44.6 L6.6,45.3 L7.3,46.0 L8.0,46.7 L8.6,47.3 L9.2,48.0 L9.7,48.6 L10.1,49.3 L10.4,50.1 L10.5,50.8 L10.4,51.7 L10.2,52.6 L9.8,53.6"/></g><ellipse rx="13.5" ry="24.1" fill="#76abbd" stroke="#000" stroke-width="3"/></g>
<g transform="translate(393.5,210.9) rotate(-8)"><g fill="none" stroke="#000" stroke-width="2.6" stroke-linecap="round" stroke-linejoin="round"><path d="M-9.3,23.0 L-9.4,23.8 L-9.5,24.6 L-9.5,25.4 L-9.4,26.2 L-9.4,27.0 L-9.3,27.8 L-9.2,28.5 L-9.0,29.3 L-8.9,30.1 L-8.7,30.8 L-8.5,31.6 L-8.3,32.3 L-8.0,33.1 L-7.8,33.9 L-7.6,34.6 L-7.3,35.4 L-7.1,36.2 L-6.8,36.9 L-6.6,37.7 L-6.5,38.5 L-6.4,39.3 L-6.4,40.0 L-6.4,40.8 L-6.6,41.6 L-6.8,42.4 L-7.1,43.1 L-7.4,43.8 L-7.8,44.5 L-8.3,45.2 L-8.8,45.8 L-9.3,46.4 L-9.8,47.0 L-10.4,47.5 L-10.9,48.1 L-11.5,48.6 L-12.1,49.1 L-12.7,49.7 L-13.3,50.2 L-13.8,50.8" stroke-width="2"/><path d="M1.3,24.0 L1.5,25.1 L1.6,26.1 L1.7,27.2 L1.6,28.2 L1.5,29.1 L1.3,30.1 L1.1,31.0 L0.8,32.0 L0.5,32.9 L0.2,33.8 L-0.2,34.7 L-0.5,35.7 L-0.8,36.6 L-1.1,37.5 L-1.4,38.5 L-1.7,39.5 L-1.9,40.5 L-2.0,41.5 L-2.1,42.5 L-2.1,43.4 L-2.1,44.4 L-1.9,45.4 L-1.6,46.3 L-1.3,47.3 L-0.9,48.2 L-0.4,49.1 L0.1,50.0 L0.5,50.8 L1.0,51.7 L1.5,52.6 L2.0,53.5 L2.4,54.4 L2.7,55.3 L3.0,56.2 L3.1,57.2 L3.2,58.2 L3.1,59.1 L2.9,60.2 L2.5,61.2"/><path d="M6.9,23.0 L7.2,23.8 L7.4,24.6 L7.7,25.4 L8.0,26.2 L8.2,27.0 L8.5,27.9 L8.7,28.8 L8.8,29.7 L9.0,30.5 L9.0,31.4 L9.0,32.3 L8.9,33.2 L8.8,34.0 L8.6,34.9 L8.3,35.7 L7.8,36.5 L7.3,37.3 L6.7,38.0 L6.1,38.8 L5.5,39.5 L5.0,40.2 L4.7,40.9 L4.5,41.7 L4.6,42.4 L4.9,43.2 L5.4,43.9 L6.0,44.6 L6.6,45.3 L7.3,46.0 L8.0,46.7 L8.6,47.3 L9.2,48.0 L9.7,48.6 L10.1,49.3 L10.4,50.1 L10.5,50.8 L10.4,51.7 L10.2,52.6 L9.8,53.6"/></g><ellipse rx="13.5" ry="24.1" fill="#76abbd" stroke="#000" stroke-width="3"/></g>
<g transform="translate(427,201.6) rotate(-11)"><g fill="none" stroke="#000" stroke-width="2.6" stroke-linecap="round" stroke-linejoin="round"><path d="M-9.3,23.0 L-9.4,23.8 L-9.5,24.6 L-9.5,25.4 L-9.4,26.2 L-9.4,27.0 L-9.3,27.8 L-9.2,28.5 L-9.0,29.3 L-8.9,30.1 L-8.7,30.8 L-8.5,31.6 L-8.3,32.3 L-8.0,33.1 L-7.8,33.9 L-7.6,34.6 L-7.3,35.4 L-7.1,36.2 L-6.8,36.9 L-6.6,37.7 L-6.5,38.5 L-6.4,39.3 L-6.4,40.0 L-6.4,40.8 L-6.6,41.6 L-6.8,42.4 L-7.1,43.1 L-7.4,43.8 L-7.8,44.5 L-8.3,45.2 L-8.8,45.8 L-9.3,46.4 L-9.8,47.0 L-10.4,47.5 L-10.9,48.1 L-11.5,48.6 L-12.1,49.1 L-12.7,49.7 L-13.3,50.2 L-13.8,50.8" stroke-width="2"/><path d="M1.3,24.0 L1.5,25.1 L1.6,26.1 L1.7,27.2 L1.6,28.2 L1.5,29.1 L1.3,30.1 L1.1,31.0 L0.8,32.0 L0.5,32.9 L0.2,33.8 L-0.2,34.7 L-0.5,35.7 L-0.8,36.6 L-1.1,37.5 L-1.4,38.5 L-1.7,39.5 L-1.9,40.5 L-2.0,41.5 L-2.1,42.5 L-2.1,43.4 L-2.1,44.4 L-1.9,45.4 L-1.6,46.3 L-1.3,47.3 L-0.9,48.2 L-0.4,49.1 L0.1,50.0 L0.5,50.8 L1.0,51.7 L1.5,52.6 L2.0,53.5 L2.4,54.4 L2.7,55.3 L3.0,56.2 L3.1,57.2 L3.2,58.2 L3.1,59.1 L2.9,60.2 L2.5,61.2"/><path d="M6.9,23.0 L7.2,23.8 L7.4,24.6 L7.7,25.4 L8.0,26.2 L8.2,27.0 L8.5,27.9 L8.7,28.8 L8.8,29.7 L9.0,30.5 L9.0,31.4 L9.0,32.3 L8.9,33.2 L8.8,34.0 L8.6,34.9 L8.3,35.7 L7.8,36.5 L7.3,37.3 L6.7,38.0 L6.1,38.8 L5.5,39.5 L5.0,40.2 L4.7,40.9 L4.5,41.7 L4.6,42.4 L4.9,43.2 L5.4,43.9 L6.0,44.6 L6.6,45.3 L7.3,46.0 L8.0,46.7 L8.6,47.3 L9.2,48.0 L9.7,48.6 L10.1,49.3 L10.4,50.1 L10.5,50.8 L10.4,51.7 L10.2,52.6 L9.8,53.6"/></g><ellipse rx="13.5" ry="24.1" fill="#76abbd" stroke="#000" stroke-width="3"/></g>
<g transform="translate(463.2,206.9) rotate(-5)"><g fill="none" stroke="#000" stroke-width="2.6" stroke-linecap="round" stroke-linejoin="round"><path d="M-9.3,23.0 L-9.4,23.8 L-9.5,24.6 L-9.5,25.4 L-9.4,26.2 L-9.4,27.0 L-9.3,27.8 L-9.2,28.5 L-9.0,29.3 L-8.9,30.1 L-8.7,30.8 L-8.5,31.6 L-8.3,32.3 L-8.0,33.1 L-7.8,33.9 L-7.6,34.6 L-7.3,35.4 L-7.1,36.2 L-6.8,36.9 L-6.6,37.7 L-6.5,38.5 L-6.4,39.3 L-6.4,40.0 L-6.4,40.8 L-6.6,41.6 L-6.8,42.4 L-7.1,43.1 L-7.4,43.8 L-7.8,44.5 L-8.3,45.2 L-8.8,45.8 L-9.3,46.4 L-9.8,47.0 L-10.4,47.5 L-10.9,48.1 L-11.5,48.6 L-12.1,49.1 L-12.7,49.7 L-13.3,50.2 L-13.8,50.8" stroke-width="2"/><path d="M1.3,24.0 L1.5,25.1 L1.6,26.1 L1.7,27.2 L1.6,28.2 L1.5,29.1 L1.3,30.1 L1.1,31.0 L0.8,32.0 L0.5,32.9 L0.2,33.8 L-0.2,34.7 L-0.5,35.7 L-0.8,36.6 L-1.1,37.5 L-1.4,38.5 L-1.7,39.5 L-1.9,40.5 L-2.0,41.5 L-2.1,42.5 L-2.1,43.4 L-2.1,44.4 L-1.9,45.4 L-1.6,46.3 L-1.3,47.3 L-0.9,48.2 L-0.4,49.1 L0.1,50.0 L0.5,50.8 L1.0,51.7 L1.5,52.6 L2.0,53.5 L2.4,54.4 L2.7,55.3 L3.0,56.2 L3.1,57.2 L3.2,58.2 L3.1,59.1 L2.9,60.2 L2.5,61.2"/><path d="M6.9,23.0 L7.2,23.8 L7.4,24.6 L7.7,25.4 L8.0,26.2 L8.2,27.0 L8.5,27.9 L8.7,28.8 L8.8,29.7 L9.0,30.5 L9.0,31.4 L9.0,32.3 L8.9,33.2 L8.8,34.0 L8.6,34.9 L8.3,35.7 L7.8,36.5 L7.3,37.3 L6.7,38.0 L6.1,38.8 L5.5,39.5 L5.0,40.2 L4.7,40.9 L4.5,41.7 L4.6,42.4 L4.9,43.2 L5.4,43.9 L6.0,44.6 L6.6,45.3 L7.3,46.0 L8.0,46.7 L8.6,47.3 L9.2,48.0 L9.7,48.6 L10.1,49.3 L10.4,50.1 L10.5,50.8 L10.4,51.7 L10.2,52.6 L9.8,53.6"/></g><ellipse rx="13.5" ry="24.1" fill="#76abbd" stroke="#000" stroke-width="3"/></g>
<g transform="translate(497,203) rotate(-2)"><g fill="none" stroke="#000" stroke-width="2.6" stroke-linecap="round" stroke-linejoin="round"><path d="M-9.3,23.0 L-9.4,23.8 L-9.5,24.6 L-9.5,25.4 L-9.4,26.2 L-9.4,27.0 L-9.3,27.8 L-9.2,28.5 L-9.0,29.3 L-8.9,30.1 L-8.7,30.8 L-8.5,31.6 L-8.3,32.3 L-8.0,33.1 L-7.8,33.9 L-7.6,34.6 L-7.3,35.4 L-7.1,36.2 L-6.8,36.9 L-6.6,37.7 L-6.5,38.5 L-6.4,39.3 L-6.4,40.0 L-6.4,40.8 L-6.6,41.6 L-6.8,42.4 L-7.1,43.1 L-7.4,43.8 L-7.8,44.5 L-8.3,45.2 L-8.8,45.8 L-9.3,46.4 L-9.8,47.0 L-10.4,47.5 L-10.9,48.1 L-11.5,48.6 L-12.1,49.1 L-12.7,49.7 L-13.3,50.2 L-13.8,50.8" stroke-width="2"/><path d="M1.3,24.0 L1.5,25.1 L1.6,26.1 L1.7,27.2 L1.6,28.2 L1.5,29.1 L1.3,30.1 L1.1,31.0 L0.8,32.0 L0.5,32.9 L0.2,33.8 L-0.2,34.7 L-0.5,35.7 L-0.8,36.6 L-1.1,37.5 L-1.4,38.5 L-1.7,39.5 L-1.9,40.5 L-2.0,41.5 L-2.1,42.5 L-2.1,43.4 L-2.1,44.4 L-1.9,45.4 L-1.6,46.3 L-1.3,47.3 L-0.9,48.2 L-0.4,49.1 L0.1,50.0 L0.5,50.8 L1.0,51.7 L1.5,52.6 L2.0,53.5 L2.4,54.4 L2.7,55.3 L3.0,56.2 L3.1,57.2 L3.2,58.2 L3.1,59.1 L2.9,60.2 L2.5,61.2"/><path d="M6.9,23.0 L7.2,23.8 L7.4,24.6 L7.7,25.4 L8.0,26.2 L8.2,27.0 L8.5,27.9 L8.7,28.8 L8.8,29.7 L9.0,30.5 L9.0,31.4 L9.0,32.3 L8.9,33.2 L8.8,34.0 L8.6,34.9 L8.3,35.7 L7.8,36.5 L7.3,37.3 L6.7,38.0 L6.1,38.8 L5.5,39.5 L5.0,40.2 L4.7,40.9 L4.5,41.7 L4.6,42.4 L4.9,43.2 L5.4,43.9 L6.0,44.6 L6.6,45.3 L7.3,46.0 L8.0,46.7 L8.6,47.3 L9.2,48.0 L9.7,48.6 L10.1,49.3 L10.4,50.1 L10.5,50.8 L10.4,51.7 L10.2,52.6 L9.8,53.6"/></g><ellipse rx="13.5" ry="24.1" fill="#76abbd" stroke="#000" stroke-width="3"/></g>
<g transform="translate(533.3,204.5) rotate(0)"><g fill="none" stroke="#000" stroke-width="2.6" stroke-linecap="round" stroke-linejoin="round"><path d="M-9.3,23.0 L-9.4,23.8 L-9.5,24.6 L-9.5,25.4 L-9.4,26.2 L-9.4,27.0 L-9.3,27.8 L-9.2,28.5 L-9.0,29.3 L-8.9,30.1 L-8.7,30.8 L-8.5,31.6 L-8.3,32.3 L-8.0,33.1 L-7.8,33.9 L-7.6,34.6 L-7.3,35.4 L-7.1,36.2 L-6.8,36.9 L-6.6,37.7 L-6.5,38.5 L-6.4,39.3 L-6.4,40.0 L-6.4,40.8 L-6.6,41.6 L-6.8,42.4 L-7.1,43.1 L-7.4,43.8 L-7.8,44.5 L-8.3,45.2 L-8.8,45.8 L-9.3,46.4 L-9.8,47.0 L-10.4,47.5 L-10.9,48.1 L-11.5,48.6 L-12.1,49.1 L-12.7,49.7 L-13.3,50.2 L-13.8,50.8" stroke-width="2"/><path d="M1.3,24.0 L1.5,25.1 L1.6,26.1 L1.7,27.2 L1.6,28.2 L1.5,29.1 L1.3,30.1 L1.1,31.0 L0.8,32.0 L0.5,32.9 L0.2,33.8 L-0.2,34.7 L-0.5,35.7 L-0.8,36.6 L-1.1,37.5 L-1.4,38.5 L-1.7,39.5 L-1.9,40.5 L-2.0,41.5 L-2.1,42.5 L-2.1,43.4 L-2.1,44.4 L-1.9,45.4 L-1.6,46.3 L-1.3,47.3 L-0.9,48.2 L-0.4,49.1 L0.1,50.0 L0.5,50.8 L1.0,51.7 L1.5,52.6 L2.0,53.5 L2.4,54.4 L2.7,55.3 L3.0,56.2 L3.1,57.2 L3.2,58.2 L3.1,59.1 L2.9,60.2 L2.5,61.2"/><path d="M6.9,23.0 L7.2,23.8 L7.4,24.6 L7.7,25.4 L8.0,26.2 L8.2,27.0 L8.5,27.9 L8.7,28.8 L8.8,29.7 L9.0,30.5 L9.0,31.4 L9.0,32.3 L8.9,33.2 L8.8,34.0 L8.6,34.9 L8.3,35.7 L7.8,36.5 L7.3,37.3 L6.7,38.0 L6.1,38.8 L5.5,39.5 L5.0,40.2 L4.7,40.9 L4.5,41.7 L4.6,42.4 L4.9,43.2 L5.4,43.9 L6.0,44.6 L6.6,45.3 L7.3,46.0 L8.0,46.7 L8.6,47.3 L9.2,48.0 L9.7,48.6 L10.1,49.3 L10.4,50.1 L10.5,50.8 L10.4,51.7 L10.2,52.6 L9.8,53.6"/></g><ellipse rx="13.5" ry="24.1" fill="#76abbd" stroke="#000" stroke-width="3"/></g>
<path d="M222,130 Q264.9,94.4 309.5,72.4" fill="none" stroke="#000" stroke-width="4.8"/>
<polygon points="339.9,57.4 303.4,65.4 312.3,81.9" fill="#000"/>
<path d="M223.3,152.7 Q266.8,189 312,208.2" fill="none" stroke="#000" stroke-width="4.8"/>
<polygon points="340.3,225 313.6,201.1 304.7,217" fill="#000"/>
<text x="282.2" y="117.8" class="t">+ [A]</text>
<text x="282.3" y="180" class="t">– [A]</text>
<text x="450.5" y="133.5" class="t" text-anchor="middle">Selection</text>
<text x="450" y="293.6" class="t" text-anchor="middle">Reverse</text>
<text x="450" y="321" class="t" text-anchor="middle">resistance</text>
<text x="-0.3" y="24.8" class="lab">a</text>
</g>
<g id="panel-b">
<text x="585.6" y="24.8" class="lab">b</text>
<circle cx="841.8" cy="148.8" r="33.6" fill="none" stroke="#28536a" stroke-width="2"/>
<circle cx="1016.2" cy="148.8" r="33.6" fill="none" stroke="#e58e1a" stroke-width="2"/>
<text x="829" y="158.5" class="ti" style="color:#28536a;stroke-width:.1px">S<tspan class="sup" dy="-9">0</tspan></text>
<text x="1007.5" y="158.5" class="ti" style="color:#e58e1a;stroke-width:.1px">S<tspan class="sup" dy="-9">1</tspan></text>
<path d="M796.0,127.0 A24.3,27.3 0 1 1 814.7,98.0" fill="none" stroke="#000" stroke-width="1.6"/>
<polygon points="804.9,98.3 823.4,98.3 814.2,107.3" fill="#808080" stroke="#000" stroke-width="1.2"/>
<path d="M1053.9,125.8 A24.5,27.5 0 1 0 1035.0,97.1" fill="none" stroke="#000" stroke-width="1.6"/>
<polygon points="1026.6,97.2 1044.8,97.2 1035.6,106" fill="#808080" stroke="#000" stroke-width="1.2"/>
<text x="741.5" y="84" class="g">α<tspan dx="1.5">μ</tspan></text>
<text x="1087" y="83" class="g">μ</text>
<path d="M958.5,140.8 H904" stroke="#000" stroke-width="3.3" fill="none"/><polygon points="894.9,140.8 906,135.4 906,146.2" fill="#000"/>
<path d="M896.1,160.4 H950" stroke="#000" stroke-width="3.3" fill="none"/><polygon points="959.7,160.4 948.4,155 948.4,165.8" fill="#000"/>
<text x="923.5" y="130.7" class="g">κ</text>
<text x="916.3" y="179" class="g">η<tspan class="subn" dy="6">C</tspan></text>
<path d="M831.7,187.3 V229" stroke="#000" stroke-width="1.5"/><polygon points="831.7,238.3 827,227.4 836.4,227.4" fill="#000"/>
<path d="M1026.6,187.2 V228" stroke="#000" stroke-width="1.5"/><polygon points="1026.6,237 1021.9,226.1 1031.3,226.1" fill="#000"/>
<text x="843" y="221.5" class="ti">D</text>
<text x="999" y="224.9" class="ti">D</text>
<polygon points="832.5,242.5 835.2,249.8 843.0,250.1 836.9,254.9 839.0,262.4 832.5,258.1 826.0,262.4 828.1,254.9 822.0,250.1 829.8,249.8" fill="#808080" stroke="#000" stroke-width="1.4" stroke-linejoin="miter"/>
<polygon points="1024.5,242.5 1027.2,249.8 1035.0,250.1 1028.9,254.9 1031.0,262.4 1024.5,258.1 1018.0,262.4 1020.1,254.9 1014.0,250.1 1021.8,249.8" fill="#808080" stroke="#000" stroke-width="1.4" stroke-linejoin="miter"/>
</g>
<g id="panel-c">
<text x="-0.3" y="402" class="lab">c</text>
<rect x="130.5" y="424.6" width="125.60000000000002" height="248.39999999999998" fill="#f8d2a0"/>
<rect x="256.1" y="424.6" width="123.69999999999999" height="248.39999999999998" fill="#b4c1c8"/>
<clipPath id="cl"><rect x="130.5" y="424.6" width="125.60000000000002" height="248.39999999999998"/></clipPath>
<clipPath id="cr"><rect x="256.1" y="424.6" width="123.69999999999999" height="248.39999999999998"/></clipPath>
<g clip-path="url(#cl)" fill="none" stroke="#9c7338" stroke-width="1.9">
<path d="M130.5,428.6 L132.2,428.7 L133.8,428.8 L135.5,428.9 L137.1,429.0 L138.8,429.1 L140.4,429.2 L142.1,429.3 L143.8,429.4 L145.4,429.5 L147.1,429.6 L148.7,429.7 L150.4,429.9 L152.0,430.0 L153.7,430.1 L155.3,430.2 L157.0,430.4 L158.6,430.5 L160.3,430.6 L161.9,430.8 L163.6,430.9 L165.3,431.0 L166.9,431.2 L168.6,431.3 L170.2,431.4 L171.9,431.6 L173.5,431.8 L175.2,431.9 L176.8,432.1 L178.5,432.3 L180.1,432.5 L181.8,432.7 L183.4,433.0 L185.0,433.3 L186.7,433.6 L188.3,433.9 L189.9,434.3 L191.5,434.7 L193.1,435.0 L194.8,435.4 L196.4,435.8 L198.0,436.1 L199.6,436.5 L201.2,436.9 L202.9,437.3 L204.5,437.7 L206.1,438.2 L207.7,438.6 L209.3,439.1 L210.8,439.6 L212.4,440.2 L213.9,440.8 L215.4,441.5 L216.9,442.2 L218.4,443.0 L219.8,443.9 L221.2,444.7 L222.6,445.6 L224.0,446.5 L225.4,447.5 L226.7,448.5 L228.0,449.5 L229.3,450.6 L230.5,451.7 L231.7,452.9 L232.9,454.1 L234.0,455.3 L235.0,456.6 L235.9,457.9 L236.8,459.3 L237.7,460.8 L238.5,462.2 L239.3,463.7 L240.0,465.2 L240.7,466.7 L241.3,468.3 L241.9,469.8 L242.4,471.4 L242.9,473.0 L243.2,474.6 L243.6,476.2 L243.9,477.9 L244.2,479.5 L244.6,481.1 L245.0,482.7 L245.4,484.3 L245.8,485.9 L246.3,487.5 L246.6,489.1 L246.9,490.8 L247.3,492.4 L247.6,494.0 L247.9,495.7 L248.2,497.3 L248.4,499.0 L248.6,500.6 L248.7,502.2 L248.8,503.9 L248.9,505.5 L249.0,507.2 L249.1,508.8 L249.2,510.5 L249.3,512.1 L249.4,513.8 L249.4,515.5 L249.5,517.1 L249.6,518.8 L249.6,520.4 L249.7,522.1 L249.7,523.8 L249.8,525.4 L249.8,527.1 L249.9,528.7 L249.9,530.4 L250.0,532.1 L250.0,533.7 L250.0,535.4 L250.1,537.0 L250.1,538.7 L250.2,540.4 L250.2,542.0 L250.3,543.7 L250.3,545.3 L250.4,547.0 L250.5,548.7 L250.5,550.3 L250.6,552.0 L250.6,553.6 L250.7,555.3 L250.8,557.0 L250.8,558.6 L250.9,560.3 L251.0,561.9 L251.0,563.6 L251.1,565.2 L251.2,566.9 L251.2,568.6 L251.3,570.2 L251.4,571.9 L251.4,573.5 L251.5,575.2 L251.5,576.9 L251.6,578.5 L251.7,580.2 L251.7,581.8 L251.8,583.5 L251.9,585.1 L251.9,586.8 L252.0,588.5 L252.1,590.1 L252.1,591.8 L252.2,593.4 L252.3,595.1 L252.3,596.7 L252.4,598.4 L252.5,600.1 L252.5,601.7 L252.6,603.4 L252.6,605.0 L252.7,606.7 L252.8,608.3 L252.8,610.0 L252.9,611.7 L253.0,613.3 L253.0,615.0 L253.1,616.6 L253.2,618.3 L253.2,620.0 L253.3,621.6 L253.3,623.3 L253.4,624.9 L253.5,626.6 L253.5,628.2 L253.6,629.9 L253.7,631.6 L253.7,633.2 L253.8,634.9 L253.9,636.5 L253.9,638.2 L254.0,639.8 L254.1,641.5 L254.1,643.2 L254.2,644.8 L254.3,646.5 L254.3,648.1 L254.4,649.8 L254.5,651.5 L254.5,653.1 L254.6,654.8 L254.7,656.4 L254.8,658.1 L254.8,659.7 L254.9,661.4 L255.0,663.1 L255.0,664.7 L255.1,666.4 L255.2,668.0 L255.3,669.7 L255.3,671.3 L255.4,673.0"/>
<path d="M130.5,427.8 L132.3,427.9 L134.0,428.0 L135.8,428.0 L137.6,428.1 L139.3,428.2 L141.1,428.3 L142.8,428.4 L144.6,428.5 L146.4,428.6 L148.1,428.7 L149.9,428.8 L151.6,428.9 L153.4,429.0 L155.2,429.1 L156.9,429.2 L158.7,429.3 L160.5,429.4 L162.2,429.5 L164.0,429.7 L165.7,429.8 L167.5,429.9 L169.3,430.0 L171.0,430.2 L172.8,430.3 L174.5,430.4 L176.3,430.6 L178.1,430.7 L179.8,430.9 L181.6,431.0 L183.3,431.2 L185.1,431.4 L186.8,431.6 L188.6,431.8 L190.3,432.0 L192.1,432.2 L193.9,432.4 L195.6,432.6 L197.4,432.8 L199.1,433.0 L200.9,433.3 L202.6,433.5 L204.4,433.7 L206.1,434.0 L207.8,434.2 L209.6,434.5 L211.3,434.8 L213.1,435.1 L214.8,435.4 L216.6,435.7 L218.3,436.1 L220.0,436.5 L221.7,436.9 L223.4,437.3 L225.1,437.7 L226.8,438.2 L228.5,438.8 L230.2,439.3 L231.9,439.9 L233.5,440.6 L235.1,441.3 L236.7,442.1 L238.2,443.0 L239.8,443.8 L241.3,444.7 L242.9,445.5 L244.4,446.4 L245.9,447.3 L247.4,448.3 L248.8,449.3 L250.2,450.4 L251.6,451.5 L252.9,452.7 L254.2,453.9 L255.4,455.2 L256.5,456.5 L257.6,458.0 L258.6,459.4 L259.6,460.9 L260.4,462.5 L261.2,464.1 L261.8,465.7 L262.5,467.3 L263.1,469.0 L263.6,470.6 L264.1,472.4 L264.6,474.1 L265.0,475.8 L265.4,477.6 L265.7,479.3 L265.9,481.0 L266.2,482.8 L266.4,484.5 L266.6,486.2 L266.8,488.0 L266.9,489.7 L267.1,491.5 L267.2,493.3 L267.4,495.0 L267.5,496.8 L267.6,498.6 L267.8,500.3 L267.9,502.1 L268.0,503.9 L268.1,505.6 L268.3,507.4 L268.4,509.2 L268.6,510.9 L268.7,512.7 L268.9,514.4 L269.1,516.2 L269.2,517.9 L269.4,519.7 L269.5,521.5 L269.7,523.2 L269.9,525.0 L270.0,526.7 L270.2,528.5 L270.3,530.3 L270.5,532.0 L270.7,533.8 L270.8,535.5 L271.0,537.3 L271.1,539.0 L271.3,540.8 L271.4,542.6 L271.6,544.3 L271.7,546.1 L271.9,547.8 L272.0,549.6 L272.1,551.4 L272.2,553.1 L272.4,554.9 L272.5,556.6 L272.6,558.4 L272.7,560.2 L272.8,561.9 L272.9,563.7 L273.0,565.4 L273.1,567.2 L273.2,569.0 L273.3,570.7 L273.4,572.5 L273.5,574.2 L273.5,576.0 L273.6,577.8 L273.7,579.5 L273.8,581.3 L273.8,583.1 L273.9,584.8 L274.0,586.6 L274.1,588.4 L274.1,590.1 L274.2,591.9 L274.3,593.6 L274.4,595.4 L274.4,597.2 L274.5,598.9 L274.6,600.7 L274.7,602.5 L274.7,604.2 L274.8,606.0 L274.9,607.8 L275.0,609.5 L275.1,611.3 L275.1,613.0 L275.2,614.8 L275.3,616.6 L275.4,618.3 L275.5,620.1 L275.6,621.9 L275.6,623.6 L275.7,625.4 L275.8,627.1 L275.9,628.9 L276.0,630.7 L276.1,632.4 L276.1,634.2 L276.2,636.0 L276.3,637.7 L276.4,639.5 L276.5,641.2 L276.5,643.0 L276.6,644.8 L276.7,646.5 L276.7,648.3 L276.8,650.1 L276.9,651.8 L276.9,653.6 L277.0,655.4 L277.1,657.1 L277.2,658.9 L277.3,660.6 L277.5,662.4 L277.7,664.2 L277.9,665.9 L278.1,667.7 L278.6,669.3 L279.2,671.0 L280.0,672.6"/>
<path d="M130.5,427.2 L131.9,427.2 L133.2,427.2 L134.6,427.3 L135.9,427.3 L137.3,427.3 L138.7,427.3 L140.0,427.3 L141.4,427.4 L142.7,427.4 L144.1,427.4 L145.5,427.4 L146.8,427.4 L148.2,427.5 L149.6,427.5 L150.9,427.5 L152.3,427.5 L153.6,427.5 L155.0,427.6 L156.4,427.6 L157.7,427.6 L159.1,427.6 L160.4,427.7 L161.8,427.7 L163.2,427.7 L164.5,427.7 L165.9,427.8 L167.2,427.8 L168.6,427.8 L170.0,427.8 L171.3,427.9 L172.7,427.9 L174.0,427.9 L175.4,427.9 L176.8,428.0 L178.1,428.0 L179.5,428.0 L180.8,428.0 L182.2,428.1 L183.6,428.1 L184.9,428.1 L186.3,428.1 L187.7,428.2 L189.0,428.2 L190.4,428.2 L191.7,428.2 L193.1,428.3 L194.5,428.3 L195.8,428.3 L197.2,428.3 L198.5,428.4 L199.9,428.4 L201.3,428.4 L202.6,428.5 L204.0,428.5 L205.3,428.5 L206.7,428.5 L208.1,428.6 L209.4,428.6 L210.8,428.6 L212.2,428.6 L213.5,428.7 L214.9,428.7 L216.2,428.7 L217.6,428.7 L219.0,428.7 L220.3,428.8 L221.7,428.8 L223.0,428.8 L224.4,428.9 L225.8,428.9 L227.1,428.9 L228.5,428.9 L229.9,429.0 L231.2,429.0 L232.6,429.0 L233.9,429.1 L235.3,429.1 L236.7,429.1 L238.0,429.2 L239.4,429.2 L240.7,429.2 L242.1,429.3 L243.5,429.3 L244.8,429.3 L246.2,429.4 L247.5,429.4 L248.9,429.5 L250.3,429.5 L251.6,429.6 L253.0,429.6 L254.3,429.7 L255.7,429.7 L257.0,429.8 L258.4,429.9 L259.8,429.9 L261.1,430.0 L262.5,430.1 L263.8,430.2 L265.2,430.3 L266.5,430.5 L267.9,430.6 L269.2,430.7 L270.6,430.8 L272.0,431.0 L273.3,431.1 L274.7,431.3 L276.0,431.4 L277.4,431.6 L278.7,431.8 L280.1,431.9 L281.4,432.1 L282.8,432.3 L284.1,432.5 L285.5,432.7 L286.8,432.8 L288.2,433.0 L289.5,433.2 L290.9,433.4 L292.2,433.6 L293.6,433.8 L294.9,434.0 L296.3,434.2 L297.6,434.4 L299.0,434.6 L300.3,434.8 L301.7,435.0 L303.0,435.2 L304.3,435.5 L305.7,435.7 L307.0,435.9 L308.4,436.2 L309.7,436.4 L311.1,436.7 L312.4,437.0 L313.7,437.3 L315.1,437.6 L316.4,437.9 L317.7,438.2 L319.0,438.5 L320.3,438.9 L321.6,439.2 L322.9,439.6 L324.2,440.0 L325.5,440.5 L326.9,440.9 L328.2,441.4 L329.5,441.8 L330.8,442.3 L332.1,442.8 L333.3,443.4 L334.6,443.9 L335.8,444.5 L337.1,445.1 L338.3,445.7 L339.5,446.3 L340.6,446.9 L341.8,447.5 L342.9,448.2 L344.0,448.9 L345.1,449.7 L346.2,450.4 L347.3,451.2 L348.3,452.1 L349.4,453.0 L350.4,453.9 L351.5,454.8 L352.5,455.7 L353.5,456.7 L354.5,457.6 L355.5,458.6 L356.5,459.6 L357.4,460.6 L358.4,461.6 L359.3,462.6 L360.3,463.6 L361.2,464.7 L362.1,465.7 L363.0,466.7 L363.9,467.7 L364.8,468.7 L365.7,469.7 L366.5,470.7 L367.4,471.8 L368.2,472.8 L369.1,473.9 L369.9,475.0 L370.7,476.1 L371.5,477.2 L372.3,478.3 L373.1,479.4 L373.9,480.5 L374.7,481.6 L375.4,482.8 L376.2,483.9 L376.9,485.1 L377.7,486.2 L378.4,487.4 L379.1,488.6 L379.8,489.8"/>
<path d="M130.5,426.6 L131.8,426.6 L133.0,426.6 L134.3,426.6 L135.5,426.6 L136.8,426.6 L138.0,426.6 L139.3,426.6 L140.5,426.6 L141.8,426.6 L143.0,426.6 L144.3,426.6 L145.5,426.6 L146.8,426.6 L148.0,426.6 L149.3,426.6 L150.6,426.6 L151.8,426.6 L153.1,426.6 L154.3,426.6 L155.6,426.6 L156.8,426.6 L158.1,426.6 L159.3,426.7 L160.6,426.7 L161.8,426.7 L163.1,426.7 L164.3,426.7 L165.6,426.7 L166.8,426.7 L168.1,426.7 L169.4,426.7 L170.6,426.7 L171.9,426.7 L173.1,426.7 L174.4,426.7 L175.6,426.7 L176.9,426.7 L178.1,426.7 L179.4,426.7 L180.6,426.8 L181.9,426.8 L183.1,426.8 L184.4,426.8 L185.6,426.8 L186.9,426.8 L188.2,426.8 L189.4,426.8 L190.7,426.8 L191.9,426.8 L193.2,426.8 L194.4,426.8 L195.7,426.9 L196.9,426.9 L198.2,426.9 L199.4,426.9 L200.7,426.9 L201.9,426.9 L203.2,426.9 L204.4,426.9 L205.7,426.9 L207.0,426.9 L208.2,426.9 L209.5,427.0 L210.7,427.0 L212.0,427.0 L213.2,427.0 L214.5,427.0 L215.7,427.0 L217.0,427.0 L218.2,427.0 L219.5,427.0 L220.7,427.1 L222.0,427.1 L223.2,427.1 L224.5,427.1 L225.7,427.1 L227.0,427.1 L228.3,427.1 L229.5,427.1 L230.8,427.1 L232.0,427.2 L233.3,427.2 L234.5,427.2 L235.8,427.2 L237.0,427.2 L238.3,427.2 L239.5,427.2 L240.8,427.2 L242.0,427.3 L243.3,427.3 L244.5,427.3 L245.8,427.3 L247.0,427.3 L248.3,427.3 L249.6,427.3 L250.8,427.4 L252.1,427.4 L253.3,427.4 L254.6,427.4 L255.8,427.4 L257.1,427.4 L258.3,427.4 L259.6,427.5 L260.8,427.5 L262.1,427.5 L263.3,427.5 L264.6,427.5 L265.8,427.6 L267.1,427.6 L268.3,427.6 L269.6,427.6 L270.8,427.6 L272.1,427.7 L273.4,427.7 L274.6,427.7 L275.9,427.7 L277.1,427.8 L278.4,427.8 L279.6,427.8 L280.9,427.9 L282.1,427.9 L283.4,427.9 L284.6,428.0 L285.9,428.0 L287.1,428.0 L288.4,428.1 L289.6,428.1 L290.9,428.1 L292.1,428.2 L293.4,428.2 L294.6,428.2 L295.9,428.3 L297.2,428.3 L298.4,428.4 L299.7,428.4 L300.9,428.4 L302.2,428.5 L303.4,428.5 L304.7,428.6 L305.9,428.6 L307.2,428.6 L308.4,428.7 L309.7,428.7 L310.9,428.8 L312.2,428.8 L313.4,428.9 L314.7,428.9 L315.9,429.0 L317.2,429.0 L318.4,429.1 L319.7,429.1 L320.9,429.2 L322.2,429.2 L323.5,429.3 L324.7,429.3 L326.0,429.4 L327.2,429.4 L328.5,429.5 L329.7,429.5 L331.0,429.6 L332.2,429.6 L333.5,429.7 L334.7,429.7 L336.0,429.8 L337.2,429.8 L338.5,429.9 L339.7,430.0 L341.0,430.0 L342.2,430.1 L343.5,430.1 L344.7,430.2 L346.0,430.2 L347.2,430.3 L348.5,430.4 L349.8,430.4 L351.0,430.5 L352.3,430.5 L353.5,430.6 L354.8,430.7 L356.0,430.7 L357.3,430.8 L358.5,430.8 L359.8,430.9 L361.0,431.0 L362.3,431.0 L363.5,431.1 L364.8,431.1 L366.0,431.2 L367.3,431.3 L368.5,431.3 L369.8,431.4 L371.0,431.5 L372.3,431.5 L373.5,431.6 L374.8,431.6 L376.0,431.7 L377.3,431.8 L378.5,431.8 L379.8,431.9"/>
<path d="M130.5,426.0 L131.8,426.0 L133.0,426.0 L134.3,426.0 L135.5,426.0 L136.8,426.0 L138.0,426.0 L139.3,426.0 L140.5,426.0 L141.8,426.0 L143.0,426.0 L144.3,426.0 L145.5,426.0 L146.8,426.0 L148.0,426.0 L149.3,426.0 L150.5,426.0 L151.8,426.1 L153.0,426.1 L154.3,426.1 L155.6,426.1 L156.8,426.1 L158.1,426.1 L159.3,426.1 L160.6,426.1 L161.8,426.1 L163.1,426.1 L164.3,426.1 L165.6,426.1 L166.8,426.1 L168.1,426.1 L169.3,426.1 L170.6,426.1 L171.8,426.1 L173.1,426.1 L174.3,426.1 L175.6,426.1 L176.9,426.1 L178.1,426.1 L179.4,426.1 L180.6,426.1 L181.9,426.1 L183.1,426.1 L184.4,426.1 L185.6,426.1 L186.9,426.1 L188.1,426.1 L189.4,426.1 L190.6,426.1 L191.9,426.1 L193.1,426.2 L194.4,426.2 L195.6,426.2 L196.9,426.2 L198.1,426.2 L199.4,426.2 L200.7,426.2 L201.9,426.2 L203.2,426.2 L204.4,426.2 L205.7,426.2 L206.9,426.2 L208.2,426.2 L209.4,426.2 L210.7,426.2 L211.9,426.2 L213.2,426.2 L214.4,426.2 L215.7,426.2 L216.9,426.2 L218.2,426.2 L219.4,426.2 L220.7,426.2 L222.0,426.2 L223.2,426.2 L224.5,426.2 L225.7,426.2 L227.0,426.2 L228.2,426.2 L229.5,426.2 L230.7,426.2 L232.0,426.2 L233.2,426.2 L234.5,426.3 L235.7,426.3 L237.0,426.3 L238.2,426.3 L239.5,426.3 L240.7,426.3 L242.0,426.3 L243.2,426.3 L244.5,426.3 L245.8,426.3 L247.0,426.3 L248.3,426.3 L249.5,426.3 L250.8,426.3 L252.0,426.3 L253.3,426.3 L254.5,426.3 L255.8,426.3 L257.0,426.3 L258.3,426.3 L259.5,426.3 L260.8,426.3 L262.0,426.3 L263.3,426.3 L264.5,426.3 L265.8,426.3 L267.1,426.3 L268.3,426.3 L269.6,426.3 L270.8,426.3 L272.1,426.3 L273.3,426.3 L274.6,426.3 L275.8,426.3 L277.1,426.4 L278.3,426.4 L279.6,426.4 L280.8,426.4 L282.1,426.4 L283.3,426.4 L284.6,426.4 L285.8,426.4 L287.1,426.4 L288.3,426.4 L289.6,426.4 L290.9,426.4 L292.1,426.4 L293.4,426.4 L294.6,426.4 L295.9,426.4 L297.1,426.4 L298.4,426.4 L299.6,426.4 L300.9,426.4 L302.1,426.4 L303.4,426.4 L304.6,426.4 L305.9,426.4 L307.1,426.4 L308.4,426.4 L309.6,426.4 L310.9,426.4 L312.2,426.4 L313.4,426.4 L314.7,426.4 L315.9,426.4 L317.2,426.4 L318.4,426.5 L319.7,426.5 L320.9,426.5 L322.2,426.5 L323.4,426.5 L324.7,426.5 L325.9,426.5 L327.2,426.5 L328.4,426.5 L329.7,426.5 L330.9,426.5 L332.2,426.5 L333.4,426.5 L334.7,426.5 L336.0,426.5 L337.2,426.5 L338.5,426.5 L339.7,426.5 L341.0,426.5 L342.2,426.5 L343.5,426.5 L344.7,426.5 L346.0,426.5 L347.2,426.5 L348.5,426.5 L349.7,426.5 L351.0,426.5 L352.2,426.5 L353.5,426.5 L354.7,426.5 L356.0,426.5 L357.3,426.5 L358.5,426.5 L359.8,426.6 L361.0,426.6 L362.3,426.6 L363.5,426.6 L364.8,426.6 L366.0,426.6 L367.3,426.6 L368.5,426.6 L369.8,426.6 L371.0,426.6 L372.3,426.6 L373.5,426.6 L374.8,426.6 L376.0,426.6 L377.3,426.6 L378.5,426.6 L379.8,426.6"/>
</g>
<g clip-path="url(#cr)" fill="none" stroke="#3f515b" stroke-width="1.9">
<path d="M130.5,428.6 L132.2,428.7 L133.8,428.8 L135.5,428.9 L137.1,429.0 L138.8,429.1 L140.4,429.2 L142.1,429.3 L143.8,429.4 L145.4,429.5 L147.1,429.6 L148.7,429.7 L150.4,429.9 L152.0,430.0 L153.7,430.1 L155.3,430.2 L157.0,430.4 L158.6,430.5 L160.3,430.6 L161.9,430.8 L163.6,430.9 L165.3,431.0 L166.9,431.2 L168.6,431.3 L170.2,431.4 L171.9,431.6 L173.5,431.8 L175.2,431.9 L176.8,432.1 L178.5,432.3 L180.1,432.5 L181.8,432.7 L183.4,433.0 L185.0,433.3 L186.7,433.6 L188.3,433.9 L189.9,434.3 L191.5,434.7 L193.1,435.0 L194.8,435.4 L196.4,435.8 L198.0,436.1 L199.6,436.5 L201.2,436.9 L202.9,437.3 L204.5,437.7 L206.1,438.2 L207.7,438.6 L209.3,439.1 L210.8,439.6 L212.4,440.2 L213.9,440.8 L215.4,441.5 L216.9,442.2 L218.4,443.0 L219.8,443.9 L221.2,444.7 L222.6,445.6 L224.0,446.5 L225.4,447.5 L226.7,448.5 L228.0,449.5 L229.3,450.6 L230.5,451.7 L231.7,452.9 L232.9,454.1 L234.0,455.3 L235.0,456.6 L235.9,457.9 L236.8,459.3 L237.7,460.8 L238.5,462.2 L239.3,463.7 L240.0,465.2 L240.7,466.7 L241.3,468.3 L241.9,469.8 L242.4,471.4 L242.9,473.0 L243.2,474.6 L243.6,476.2 L243.9,477.9 L244.2,479.5 L244.6,481.1 L245.0,482.7 L245.4,484.3 L245.8,485.9 L246.3,487.5 L246.6,489.1 L246.9,490.8 L247.3,492.4 L247.6,494.0 L247.9,495.7 L248.2,497.3 L248.4,499.0 L248.6,500.6 L248.7,502.2 L248.8,503.9 L248.9,505.5 L249.0,507.2 L249.1,508.8 L249.2,510.5 L249.3,512.1 L249.4,513.8 L249.4,515.5 L249.5,517.1 L249.6,518.8 L249.6,520.4 L249.7,522.1 L249.7,523.8 L249.8,525.4 L249.8,527.1 L249.9,528.7 L249.9,530.4 L250.0,532.1 L250.0,533.7 L250.0,535.4 L250.1,537.0 L250.1,538.7 L250.2,540.4 L250.2,542.0 L250.3,543.7 L250.3,545.3 L250.4,547.0 L250.5,548.7 L250.5,550.3 L250.6,552.0 L250.6,553.6 L250.7,555.3 L250.8,557.0 L250.8,558.6 L250.9,560.3 L251.0,561.9 L251.0,563.6 L251.1,565.2 L251.2,566.9 L251.2,568.6 L251.3,570.2 L251.4,571.9 L251.4,573.5 L251.5,575.2 L251.5,576.9 L251.6,578.5 L251.7,580.2 L251.7,581.8 L251.8,583.5 L251.9,585.1 L251.9,586.8 L252.0,588.5 L252.1,590.1 L252.1,591.8 L252.2,593.4 L252.3,595.1 L252.3,596.7 L252.4,598.4 L252.5,600.1 L252.5,601.7 L252.6,603.4 L252.6,605.0 L252.7,606.7 L252.8,608.3 L252.8,610.0 L252.9,611.7 L253.0,613.3 L253.0,615.0 L253.1,616.6 L253.2,618.3 L253.2,620.0 L253.3,621.6 L253.3,623.3 L253.4,624.9 L253.5,626.6 L253.5,628.2 L253.6,629.9 L253.7,631.6 L253.7,633.2 L253.8,634.9 L253.9,636.5 L253.9,638.2 L254.0,639.8 L254.1,641.5 L254.1,643.2 L254.2,644.8 L254.3,646.5 L254.3,648.1 L254.4,649.8 L254.5,651.5 L254.5,653.1 L254.6,654.8 L254.7,656.4 L254.8,658.1 L254.8,659.7 L254.9,661.4 L255.0,663.1 L255.0,664.7 L255.1,666.4 L255.2,668.0 L255.3,669.7 L255.3,671.3 L255.4,673.0"/>
<path d="M130.5,427.8 L132.3,427.9 L134.0,428.0 L135.8,428.0 L137.6,428.1 L139.3,428.2 L141.1,428.3 L142.8,428.4 L144.6,428.5 L146.4,428.6 L148.1,428.7 L149.9,428.8 L151.6,428.9 L153.4,429.0 L155.2,429.1 L156.9,429.2 L158.7,429.3 L160.5,429.4 L162.2,429.5 L164.0,429.7 L165.7,429.8 L167.5,429.9 L169.3,430.0 L171.0,430.2 L172.8,430.3 L174.5,430.4 L176.3,430.6 L178.1,430.7 L179.8,430.9 L181.6,431.0 L183.3,431.2 L185.1,431.4 L186.8,431.6 L188.6,431.8 L190.3,432.0 L192.1,432.2 L193.9,432.4 L195.6,432.6 L197.4,432.8 L199.1,433.0 L200.9,433.3 L202.6,433.5 L204.4,433.7 L206.1,434.0 L207.8,434.2 L209.6,434.5 L211.3,434.8 L213.1,435.1 L214.8,435.4 L216.6,435.7 L218.3,436.1 L220.0,436.5 L221.7,436.9 L223.4,437.3 L225.1,437.7 L226.8,438.2 L228.5,438.8 L230.2,439.3 L231.9,439.9 L233.5,440.6 L235.1,441.3 L236.7,442.1 L238.2,443.0 L239.8,443.8 L241.3,444.7 L242.9,445.5 L244.4,446.4 L245.9,447.3 L247.4,448.3 L248.8,449.3 L250.2,450.4 L251.6,451.5 L252.9,452.7 L254.2,453.9 L255.4,455.2 L256.5,456.5 L257.6,458.0 L258.6,459.4 L259.6,460.9 L260.4,462.5 L261.2,464.1 L261.8,465.7 L262.5,467.3 L263.1,469.0 L263.6,470.6 L264.1,472.4 L264.6,474.1 L265.0,475.8 L265.4,477.6 L265.7,479.3 L265.9,481.0 L266.2,482.8 L266.4,484.5 L266.6,486.2 L266.8,488.0 L266.9,489.7 L267.1,491.5 L267.2,493.3 L267.4,495.0 L267.5,496.8 L267.6,498.6 L267.8,500.3 L267.9,502.1 L268.0,503.9 L268.1,505.6 L268.3,507.4 L268.4,509.2 L268.6,510.9 L268.7,512.7 L268.9,514.4 L269.1,516.2 L269.2,517.9 L269.4,519.7 L269.5,521.5 L269.7,523.2 L269.9,525.0 L270.0,526.7 L270.2,528.5 L270.3,530.3 L270.5,532.0 L270.7,533.8 L270.8,535.5 L271.0,537.3 L271.1,539.0 L271.3,540.8 L271.4,542.6 L271.6,544.3 L271.7,546.1 L271.9,547.8 L272.0,549.6 L272.1,551.4 L272.2,553.1 L272.4,554.9 L272.5,556.6 L272.6,558.4 L272.7,560.2 L272.8,561.9 L272.9,563.7 L273.0,565.4 L273.1,567.2 L273.2,569.0 L273.3,570.7 L273.4,572.5 L273.5,574.2 L273.5,576.0 L273.6,577.8 L273.7,579.5 L273.8,581.3 L273.8,583.1 L273.9,584.8 L274.0,586.6 L274.1,588.4 L274.1,590.1 L274.2,591.9 L274.3,593.6 L274.4,595.4 L274.4,597.2 L274.5,598.9 L274.6,600.7 L274.7,602.5 L274.7,604.2 L274.8,606.0 L274.9,607.8 L275.0,609.5 L275.1,611.3 L275.1,613.0 L275.2,614.8 L275.3,616.6 L275.4,618.3 L275.5,620.1 L275.6,621.9 L275.6,623.6 L275.7,625.4 L275.8,627.1 L275.9,628.9 L276.0,630.7 L276.1,632.4 L276.1,634.2 L276.2,636.0 L276.3,637.7 L276.4,639.5 L276.5,641.2 L276.5,643.0 L276.6,644.8 L276.7,646.5 L276.7,648.3 L276.8,650.1 L276.9,651.8 L276.9,653.6 L277.0,655.4 L277.1,657.1 L277.2,658.9 L277.3,660.6 L277.5,662.4 L277.7,664.2 L277.9,665.9 L278.1,667.7 L278.6,669.3 L279.2,671.0 L280.0,672.6"/>
<path d="M130.5,427.2 L131.9,427.2 L133.2,427.2 L134.6,427.3 L135.9,427.3 L137.3,427.3 L138.7,427.3 L140.0,427.3 L141.4,427.4 L142.7,427.4 L144.1,427.4 L145.5,427.4 L146.8,427.4 L148.2,427.5 L149.6,427.5 L150.9,427.5 L152.3,427.5 L153.6,427.5 L155.0,427.6 L156.4,427.6 L157.7,427.6 L159.1,427.6 L160.4,427.7 L161.8,427.7 L163.2,427.7 L164.5,427.7 L165.9,427.8 L167.2,427.8 L168.6,427.8 L170.0,427.8 L171.3,427.9 L172.7,427.9 L174.0,427.9 L175.4,427.9 L176.8,428.0 L178.1,428.0 L179.5,428.0 L180.8,428.0 L182.2,428.1 L183.6,428.1 L184.9,428.1 L186.3,428.1 L187.7,428.2 L189.0,428.2 L190.4,428.2 L191.7,428.2 L193.1,428.3 L194.5,428.3 L195.8,428.3 L197.2,428.3 L198.5,428.4 L199.9,428.4 L201.3,428.4 L202.6,428.5 L204.0,428.5 L205.3,428.5 L206.7,428.5 L208.1,428.6 L209.4,428.6 L210.8,428.6 L212.2,428.6 L213.5,428.7 L214.9,428.7 L216.2,428.7 L217.6,428.7 L219.0,428.7 L220.3,428.8 L221.7,428.8 L223.0,428.8 L224.4,428.9 L225.8,428.9 L227.1,428.9 L228.5,428.9 L229.9,429.0 L231.2,429.0 L232.6,429.0 L233.9,429.1 L235.3,429.1 L236.7,429.1 L238.0,429.2 L239.4,429.2 L240.7,429.2 L242.1,429.3 L243.5,429.3 L244.8,429.3 L246.2,429.4 L247.5,429.4 L248.9,429.5 L250.3,429.5 L251.6,429.6 L253.0,429.6 L254.3,429.7 L255.7,429.7 L257.0,429.8 L258.4,429.9 L259.8,429.9 L261.1,430.0 L262.5,430.1 L263.8,430.2 L265.2,430.3 L266.5,430.5 L267.9,430.6 L269.2,430.7 L270.6,430.8 L272.0,431.0 L273.3,431.1 L274.7,431.3 L276.0,431.4 L277.4,431.6 L278.7,431.8 L280.1,431.9 L281.4,432.1 L282.8,432.3 L284.1,432.5 L285.5,432.7 L286.8,432.8 L288.2,433.0 L289.5,433.2 L290.9,433.4 L292.2,433.6 L293.6,433.8 L294.9,434.0 L296.3,434.2 L297.6,434.4 L299.0,434.6 L300.3,434.8 L301.7,435.0 L303.0,435.2 L304.3,435.5 L305.7,435.7 L307.0,435.9 L308.4,436.2 L309.7,436.4 L311.1,436.7 L312.4,437.0 L313.7,437.3 L315.1,437.6 L316.4,437.9 L317.7,438.2 L319.0,438.5 L320.3,438.9 L321.6,439.2 L322.9,439.6 L324.2,440.0 L325.5,440.5 L326.9,440.9 L328.2,441.4 L329.5,441.8 L330.8,442.3 L332.1,442.8 L333.3,443.4 L334.6,443.9 L335.8,444.5 L337.1,445.1 L338.3,445.7 L339.5,446.3 L340.6,446.9 L341.8,447.5 L342.9,448.2 L344.0,448.9 L345.1,449.7 L346.2,450.4 L347.3,451.2 L348.3,452.1 L349.4,453.0 L350.4,453.9 L351.5,454.8 L352.5,455.7 L353.5,456.7 L354.5,457.6 L355.5,458.6 L356.5,459.6 L357.4,460.6 L358.4,461.6 L359.3,462.6 L360.3,463.6 L361.2,464.7 L362.1,465.7 L363.0,466.7 L363.9,467.7 L364.8,468.7 L365.7,469.7 L366.5,470.7 L367.4,471.8 L368.2,472.8 L369.1,473.9 L369.9,475.0 L370.7,476.1 L371.5,477.2 L372.3,478.3 L373.1,479.4 L373.9,480.5 L374.7,481.6 L375.4,482.8 L376.2,483.9 L376.9,485.1 L377.7,486.2 L378.4,487.4 L379.1,488.6 L379.8,489.8"/>
<path d="M130.5,426.6 L131.8,426.6 L133.0,426.6 L134.3,426.6 L135.5,426.6 L136.8,426.6 L138.0,426.6 L139.3,426.6 L140.5,426.6 L141.8,426.6 L143.0,426.6 L144.3,426.6 L145.5,426.6 L146.8,426.6 L148.0,426.6 L149.3,426.6 L150.6,426.6 L151.8,426.6 L153.1,426.6 L154.3,426.6 L155.6,426.6 L156.8,426.6 L158.1,426.6 L159.3,426.7 L160.6,426.7 L161.8,426.7 L163.1,426.7 L164.3,426.7 L165.6,426.7 L166.8,426.7 L168.1,426.7 L169.4,426.7 L170.6,426.7 L171.9,426.7 L173.1,426.7 L174.4,426.7 L175.6,426.7 L176.9,426.7 L178.1,426.7 L179.4,426.7 L180.6,426.8 L181.9,426.8 L183.1,426.8 L184.4,426.8 L185.6,426.8 L186.9,426.8 L188.2,426.8 L189.4,426.8 L190.7,426.8 L191.9,426.8 L193.2,426.8 L194.4,426.8 L195.7,426.9 L196.9,426.9 L198.2,426.9 L199.4,426.9 L200.7,426.9 L201.9,426.9 L203.2,426.9 L204.4,426.9 L205.7,426.9 L207.0,426.9 L208.2,426.9 L209.5,427.0 L210.7,427.0 L212.0,427.0 L213.2,427.0 L214.5,427.0 L215.7,427.0 L217.0,427.0 L218.2,427.0 L219.5,427.0 L220.7,427.1 L222.0,427.1 L223.2,427.1 L224.5,427.1 L225.7,427.1 L227.0,427.1 L228.3,427.1 L229.5,427.1 L230.8,427.1 L232.0,427.2 L233.3,427.2 L234.5,427.2 L235.8,427.2 L237.0,427.2 L238.3,427.2 L239.5,427.2 L240.8,427.2 L242.0,427.3 L243.3,427.3 L244.5,427.3 L245.8,427.3 L247.0,427.3 L248.3,427.3 L249.6,427.3 L250.8,427.4 L252.1,427.4 L253.3,427.4 L254.6,427.4 L255.8,427.4 L257.1,427.4 L258.3,427.4 L259.6,427.5 L260.8,427.5 L262.1,427.5 L263.3,427.5 L264.6,427.5 L265.8,427.6 L267.1,427.6 L268.3,427.6 L269.6,427.6 L270.8,427.6 L272.1,427.7 L273.4,427.7 L274.6,427.7 L275.9,427.7 L277.1,427.8 L278.4,427.8 L279.6,427.8 L280.9,427.9 L282.1,427.9 L283.4,427.9 L284.6,428.0 L285.9,428.0 L287.1,428.0 L288.4,428.1 L289.6,428.1 L290.9,428.1 L292.1,428.2 L293.4,428.2 L294.6,428.2 L295.9,428.3 L297.2,428.3 L298.4,428.4 L299.7,428.4 L300.9,428.4 L302.2,428.5 L303.4,428.5 L304.7,428.6 L305.9,428.6 L307.2,428.6 L308.4,428.7 L309.7,428.7 L310.9,428.8 L312.2,428.8 L313.4,428.9 L314.7,428.9 L315.9,429.0 L317.2,429.0 L318.4,429.1 L319.7,429.1 L320.9,429.2 L322.2,429.2 L323.5,429.3 L324.7,429.3 L326.0,429.4 L327.2,429.4 L328.5,429.5 L329.7,429.5 L331.0,429.6 L332.2,429.6 L333.5,429.7 L334.7,429.7 L336.0,429.8 L337.2,429.8 L338.5,429.9 L339.7,430.0 L341.0,430.0 L342.2,430.1 L343.5,430.1 L344.7,430.2 L346.0,430.2 L347.2,430.3 L348.5,430.4 L349.8,430.4 L351.0,430.5 L352.3,430.5 L353.5,430.6 L354.8,430.7 L356.0,430.7 L357.3,430.8 L358.5,430.8 L359.8,430.9 L361.0,431.0 L362.3,431.0 L363.5,431.1 L364.8,431.1 L366.0,431.2 L367.3,431.3 L368.5,431.3 L369.8,431.4 L371.0,431.5 L372.3,431.5 L373.5,431.6 L374.8,431.6 L376.0,431.7 L377.3,431.8 L378.5,431.8 L379.8,431.9"/>
<path d="M130.5,426.0 L131.8,426.0 L133.0,426.0 L134.3,426.0 L135.5,426.0 L136.8,426.0 L138.0,426.0 L139.3,426.0 L140.5,426.0 L141.8,426.0 L143.0,426.0 L144.3,426.0 L145.5,426.0 L146.8,426.0 L148.0,426.0 L149.3,426.0 L150.5,426.0 L151.8,426.1 L153.0,426.1 L154.3,426.1 L155.6,426.1 L156.8,426.1 L158.1,426.1 L159.3,426.1 L160.6,426.1 L161.8,426.1 L163.1,426.1 L164.3,426.1 L165.6,426.1 L166.8,426.1 L168.1,426.1 L169.3,426.1 L170.6,426.1 L171.8,426.1 L173.1,426.1 L174.3,426.1 L175.6,426.1 L176.9,426.1 L178.1,426.1 L179.4,426.1 L180.6,426.1 L181.9,426.1 L183.1,426.1 L184.4,426.1 L185.6,426.1 L186.9,426.1 L188.1,426.1 L189.4,426.1 L190.6,426.1 L191.9,426.1 L193.1,426.2 L194.4,426.2 L195.6,426.2 L196.9,426.2 L198.1,426.2 L199.4,426.2 L200.7,426.2 L201.9,426.2 L203.2,426.2 L204.4,426.2 L205.7,426.2 L206.9,426.2 L208.2,426.2 L209.4,426.2 L210.7,426.2 L211.9,426.2 L213.2,426.2 L214.4,426.2 L215.7,426.2 L216.9,426.2 L218.2,426.2 L219.4,426.2 L220.7,426.2 L222.0,426.2 L223.2,426.2 L224.5,426.2 L225.7,426.2 L227.0,426.2 L228.2,426.2 L229.5,426.2 L230.7,426.2 L232.0,426.2 L233.2,426.2 L234.5,426.3 L235.7,426.3 L237.0,426.3 L238.2,426.3 L239.5,426.3 L240.7,426.3 L242.0,426.3 L243.2,426.3 L244.5,426.3 L245.8,426.3 L247.0,426.3 L248.3,426.3 L249.5,426.3 L250.8,426.3 L252.0,426.3 L253.3,426.3 L254.5,426.3 L255.8,426.3 L257.0,426.3 L258.3,426.3 L259.5,426.3 L260.8,426.3 L262.0,426.3 L263.3,426.3 L264.5,426.3 L265.8,426.3 L267.1,426.3 L268.3,426.3 L269.6,426.3 L270.8,426.3 L272.1,426.3 L273.3,426.3 L274.6,426.3 L275.8,426.3 L277.1,426.4 L278.3,426.4 L279.6,426.4 L280.8,426.4 L282.1,426.4 L283.3,426.4 L284.6,426.4 L285.8,426.4 L287.1,426.4 L288.3,426.4 L289.6,426.4 L290.9,426.4 L292.1,426.4 L293.4,426.4 L294.6,426.4 L295.9,426.4 L297.1,426.4 L298.4,426.4 L299.6,426.4 L300.9,426.4 L302.1,426.4 L303.4,426.4 L304.6,426.4 L305.9,426.4 L307.1,426.4 L308.4,426.4 L309.6,426.4 L310.9,426.4 L312.2,426.4 L313.4,426.4 L314.7,426.4 L315.9,426.4 L317.2,426.4 L318.4,426.5 L319.7,426.5 L320.9,426.5 L322.2,426.5 L323.4,426.5 L324.7,426.5 L325.9,426.5 L327.2,426.5 L328.4,426.5 L329.7,426.5 L330.9,426.5 L332.2,426.5 L333.4,426.5 L334.7,426.5 L336.0,426.5 L337.2,426.5 L338.5,426.5 L339.7,426.5 L341.0,426.5 L342.2,426.5 L343.5,426.5 L344.7,426.5 L346.0,426.5 L347.2,426.5 L348.5,426.5 L349.7,426.5 L351.0,426.5 L352.2,426.5 L353.5,426.5 L354.7,426.5 L356.0,426.5 L357.3,426.5 L358.5,426.5 L359.8,426.6 L361.0,426.6 L362.3,426.6 L363.5,426.6 L364.8,426.6 L366.0,426.6 L367.3,426.6 L368.5,426.6 L369.8,426.6 L371.0,426.6 L372.3,426.6 L373.5,426.6 L374.8,426.6 L376.0,426.6 L377.3,426.6 L378.5,426.6 L379.8,426.6"/>
</g>
<path d="M256.1,424.6 V673.0" stroke="#000" stroke-width="1.3" stroke-dasharray="5.9 1.7" fill="none"/>
<path d="M129.6,425.0 H380.90000000000003" stroke="#000" stroke-width="1.5"/>
<path d="M380.0,424.6 V673.6" stroke="#000" stroke-width="1.8"/>
<path d="M129.6,673.3 H380.90000000000003" stroke="#1a1208" stroke-width="1.2"/>
<path d="M130.9,425.6 V673.6" stroke="#7a5522" stroke-width="1.8"/>
<path d="M130.5,673.0 h4 M379.8,673.0 h-4" stroke="#000" stroke-width="1.2"/>
<path d="M130.5,548.8 h4 M379.8,548.8 h-4" stroke="#000" stroke-width="1.2"/>
<path d="M130.5,424.6 h4 M379.8,424.6 h-4" stroke="#000" stroke-width="1.2"/>
<path d="M130.5,673.0 v-4 M130.5,424.6 v4" stroke="#000" stroke-width="1.2"/>
<path d="M255.15,673.0 v-4 M255.15,424.6 v4" stroke="#000" stroke-width="1.2"/>
<path d="M379.8,673.0 v-4 M379.8,424.6 v4" stroke="#000" stroke-width="1.2"/>
<text x="124" y="433.6" class="t" text-anchor="end">1</text>
<text x="124.3" y="557.6" class="t" text-anchor="end">0.5</text>
<text x="124.2" y="679.8" class="t" text-anchor="end">0</text>
<text x="132" y="697.5" class="t" text-anchor="middle">0</text>
<text x="255.5" y="697.5" class="t" text-anchor="middle">1</text>
<text x="380" y="697.5" class="t" text-anchor="middle">2</text>
<text transform="translate(74,549) rotate(-90)" class="t" text-anchor="middle">Fraction <tspan class="ti">S</tspan><tspan class="sup" dy="-9">1</tspan></text>
<text y="408.8" class="g"><tspan x="157.8">μ</tspan><tspan class="subn" x="169.10000000000002" dy="4.5" style="color:#e58e1a">S1</tspan><tspan class="op" dy="-4.5" x="191.0">&gt;</tspan><tspan x="206.60000000000002">μ</tspan><tspan class="subn" x="218.8" dy="4.5" style="color:#28536a">S0</tspan></text>
<text y="408.8" class="g"><tspan x="282.6">μ</tspan><tspan class="subn" x="293.90000000000003" dy="4.5" style="color:#e58e1a">S1</tspan><tspan class="op" dy="-4.5" x="315.8">&lt;</tspan><tspan x="331.40000000000003">μ</tspan><tspan class="subn" x="343.6" dy="4.5" style="color:#28536a">S0</tspan></text>
<path d="M231.5,523 L303,446" stroke="#000" stroke-width="1.8" fill="none"/>
<polygon points="309,439.5 305.6,452 296,443.3" fill="#000"/>
<text x="210" y="538.2" class="g">η<tspan class="subn" dy="6">C</tspan></text>
<path d="M239.3,717.4 H143" stroke="#e98b0e" stroke-width="4.2"/><polygon points="132,717.4 145.2,711.1 145.2,723.7" fill="#e98b0e"/>
<path d="M272.3,717.4 H369" stroke="#28536a" stroke-width="4.2"/><polygon points="379.8,717.4 366.6,711.1 366.6,723.7" fill="#28536a"/>
<text x="250.3" y="723" class="g" style="font-size:22.5px">α</text>
<text x="193.6" y="747" class="t" text-anchor="middle">Benefit</text>
<text x="320" y="747" class="t" text-anchor="middle">Cost</text>
</g>
<g id="panel-d">
<text x="585.8" y="402" class="lab">d</text>
<clipPath id="d1"><rect x="675.2" y="421.2" width="257.4" height="256.59999999999997"/></clipPath>
<clipPath id="d2"><rect x="942.6" y="421.2" width="256.6" height="256.59999999999997"/></clipPath>
<g clip-path="url(#d1)" fill="none" stroke-width="2.5" stroke-linejoin="round">
<path d="M685.6,680.0 L685.6,678.7 L685.6,677.4 L685.7,676.1 L685.7,674.8 L685.7,673.5 L685.7,672.2 L685.8,670.9 L685.8,669.6 L685.8,668.3 L685.8,667.0 L685.8,665.7 L685.9,664.4 L685.9,663.1 L685.9,661.8 L685.9,660.6 L685.9,659.3 L686.0,658.0 L686.0,656.7 L686.0,655.4 L686.0,654.1 L686.1,652.8 L686.1,651.5 L686.1,650.2 L686.1,648.9 L686.1,647.6 L686.2,646.3 L686.2,645.0 L686.2,643.7 L686.2,642.4 L686.2,641.1 L686.3,639.8 L686.3,638.5 L686.3,637.2 L686.3,635.9 L686.4,634.6 L686.4,633.3 L686.4,632.0 L686.4,630.7 L686.4,629.4 L686.5,628.1 L686.5,626.8 L686.5,625.5 L686.5,624.3 L686.6,623.0 L686.6,621.7 L686.6,620.4 L686.6,619.1 L686.6,617.8 L686.7,616.5 L686.7,615.2 L686.7,613.9 L686.7,612.6 L686.7,611.3 L686.8,610.0 L686.8,608.7 L686.8,607.4 L686.8,606.1 L686.8,604.8 L686.9,603.5 L686.9,602.2 L686.9,600.9 L686.9,599.6 L687.0,598.3 L687.0,597.0 L687.0,595.7 L687.0,594.4 L687.0,593.1 L687.1,591.8 L687.1,590.5 L687.1,589.2 L687.1,588.0 L687.1,586.7 L687.2,585.4 L687.2,584.1 L687.2,582.8 L687.2,581.5 L687.2,580.2 L687.3,578.9 L687.3,577.6 L687.3,576.3 L687.3,575.0 L687.4,573.7 L687.4,572.4 L687.4,571.1 L687.4,569.8 L687.4,568.5 L687.5,567.2 L687.5,565.9 L687.5,564.6 L687.5,563.3 L687.6,562.0 L687.6,560.7 L687.6,559.4 L687.6,558.1 L687.7,556.8 L687.7,555.5 L687.7,554.2 L687.7,552.9 L687.8,551.7 L687.8,550.4 L687.8,549.1 L687.8,547.8 L687.9,546.5 L687.9,545.2 L687.9,543.9 L687.9,542.6 L688.0,541.3 L688.0,540.0 L688.0,538.7 L688.1,537.4 L688.1,536.1 L688.1,534.8 L688.1,533.5 L688.2,532.2 L688.2,530.9 L688.2,529.6 L688.2,528.3 L688.3,527.0 L688.3,525.7 L688.3,524.4 L688.3,523.1 L688.4,521.8 L688.4,520.5 L688.4,519.2 L688.4,517.9 L688.4,516.6 L688.5,515.4 L688.5,514.1 L688.5,512.8 L688.5,511.5 L688.5,510.2 L688.6,508.9 L688.6,507.6 L688.6,506.3 L688.6,505.0 L688.6,503.7 L688.7,502.4 L688.7,501.1 L688.7,499.8 L688.7,498.5 L688.7,497.2 L688.8,495.9 L688.8,494.6 L688.8,493.3 L688.8,492.0 L688.9,490.7 L688.9,489.4 L688.9,488.1 L688.9,486.8 L688.9,485.5 L689.0,484.2 L689.0,482.9 L689.0,481.6 L689.1,480.3 L689.1,479.1 L689.1,477.8 L689.1,476.5 L689.2,475.2 L689.2,473.9 L689.3,472.6 L689.3,471.3 L689.3,470.0 L689.4,468.7 L689.4,467.4 L689.4,466.1 L689.5,464.8 L689.5,463.5 L689.6,462.2 L689.6,460.9 L689.7,459.6 L689.7,458.3 L689.8,457.0 L689.8,455.7 L689.9,454.4 L689.9,453.1 L690.0,451.8 L690.1,450.5 L690.1,449.2 L690.2,447.9 L690.3,446.6 L690.4,445.4 L690.5,444.1 L690.6,442.8 L690.8,441.4 L691.2,440.2 L692.0,439.2 L693.2,439.6 L694.4,440.2 L695.5,440.8 L696.6,441.5 L697.6,442.3 L698.7,443.1 L699.7,443.9 L700.7,444.7 L701.6,445.6 L702.6,446.4 L703.6,447.3 L704.6,448.1 L705.6,449.0 L706.5,449.8 L707.5,450.7 L708.5,451.6 L709.4,452.4 L710.4,453.3 L711.4,454.2 L712.3,455.0 L713.3,455.9 L714.3,456.8 L715.2,457.7 L716.2,458.5 L717.1,459.4 L718.1,460.3 L719.0,461.2 L720.0,462.1 L720.9,463.0 L721.8,463.9 L722.8,464.8 L723.7,465.7 L724.6,466.6 L725.5,467.5 L726.4,468.4 L727.3,469.4 L728.2,470.3 L729.0,471.3 L729.9,472.3 L730.7,473.3 L731.5,474.3 L732.3,475.3 L733.1,476.3 L733.9,477.3 L734.7,478.4 L735.5,479.4 L736.3,480.4 L737.1,481.5 L737.8,482.5 L738.6,483.6 L739.4,484.6 L740.2,485.6 L741.0,486.7 L741.8,487.7 L742.6,488.7 L743.4,489.8 L744.2,490.8 L744.9,491.8 L745.7,492.9 L746.5,493.9 L747.3,494.9 L748.1,496.0 L748.9,497.0 L749.6,498.0 L750.4,499.1 L751.2,500.1 L752.0,501.1 L752.8,502.1 L753.6,503.1 L754.5,504.1 L755.3,505.1 L756.1,506.1 L757.0,507.1 L757.8,508.0 L758.7,509.0 L759.6,510.0 L760.5,510.9 L761.4,511.9 L762.3,512.8 L763.2,513.8 L764.1,514.7 L765.0,515.6 L765.9,516.5 L766.9,517.4 L767.8,518.3 L768.8,519.2 L769.8,520.0 L770.7,520.9 L771.7,521.7 L772.7,522.5 L773.7,523.3 L774.8,524.1 L775.8,524.9 L776.8,525.7 L777.9,526.4 L779.0,527.2 L780.0,527.9 L781.1,528.7 L782.2,529.4 L783.3,530.0 L784.4,530.7 L785.6,531.3 L786.7,531.9 L787.8,532.5 L789.0,533.1 L790.1,533.7 L791.3,534.3 L792.5,534.8 L793.7,535.4 L794.9,535.9 L796.1,536.4 L797.3,536.9 L798.5,537.3 L799.7,537.7 L800.9,538.2 L802.2,538.6 L803.4,539.0 L804.6,539.4 L805.9,539.7 L807.1,540.1 L808.4,540.4 L809.7,540.8 L810.9,541.1 L812.2,541.4 L813.5,541.6 L814.7,541.9 L816.0,542.1 L817.3,542.3 L818.5,542.6 L819.8,542.8 L821.1,543.0 L822.4,543.2 L823.7,543.4 L825.0,543.5 L826.3,543.7 L827.5,543.9 L828.8,544.0 L830.1,544.1 L831.4,544.3 L832.7,544.4 L834.0,544.5 L835.3,544.6 L836.6,544.7 L837.9,544.8 L839.2,544.9 L840.5,545.0 L841.8,545.0 L843.1,545.1 L844.3,545.2 L845.6,545.3 L846.9,545.3 L848.2,545.4 L849.5,545.4 L850.8,545.5 L852.1,545.5 L853.4,545.5 L854.7,545.6 L856.0,545.6 L857.3,545.7 L858.6,545.7 L859.9,545.7 L861.2,545.8 L862.5,545.8 L863.8,545.8 L865.1,545.8 L866.4,545.9 L867.7,545.9 L869.0,545.9 L870.3,545.9 L871.6,546.0 L872.9,546.0 L874.2,546.0 L875.5,546.0 L876.8,546.1 L878.0,546.1 L879.3,546.1 L880.6,546.1 L881.9,546.1 L883.2,546.1 L884.5,546.2 L885.8,546.2 L887.1,546.2 L888.4,546.2 L889.7,546.2 L891.0,546.2 L892.3,546.3 L893.6,546.3 L894.9,546.3 L896.2,546.3 L897.5,546.3 L898.8,546.3 L900.1,546.3 L901.4,546.4 L902.7,546.4 L904.0,546.4 L905.3,546.4 L906.6,546.4 L907.9,546.4 L909.2,546.4 L910.5,546.4 L911.8,546.5 L913.1,546.5 L914.4,546.5 L915.6,546.5 L916.9,546.5 L918.2,546.5 L919.5,546.5 L920.8,546.5 L922.1,546.5 L923.4,546.5 L924.7,546.5 L926.0,546.5 L927.3,546.6" stroke="#27366b"/>
<path d="M686.0,680.0 L686.0,678.9 L686.0,677.8 L686.1,676.6 L686.1,675.5 L686.1,674.4 L686.1,673.3 L686.1,672.2 L686.2,671.0 L686.2,669.9 L686.2,668.8 L686.2,667.7 L686.2,666.6 L686.3,665.4 L686.3,664.3 L686.3,663.2 L686.3,662.1 L686.3,661.0 L686.4,659.8 L686.4,658.7 L686.4,657.6 L686.4,656.5 L686.4,655.4 L686.5,654.2 L686.5,653.1 L686.5,652.0 L686.5,650.9 L686.5,649.8 L686.5,648.6 L686.6,647.5 L686.6,646.4 L686.6,645.3 L686.6,644.1 L686.6,643.0 L686.7,641.9 L686.7,640.8 L686.7,639.7 L686.7,638.5 L686.7,637.4 L686.8,636.3 L686.8,635.2 L686.8,634.1 L686.8,632.9 L686.8,631.8 L686.9,630.7 L686.9,629.6 L686.9,628.5 L686.9,627.3 L686.9,626.2 L686.9,625.1 L687.0,624.0 L687.0,622.9 L687.0,621.7 L687.0,620.6 L687.0,619.5 L687.1,618.4 L687.1,617.3 L687.1,616.1 L687.1,615.0 L687.1,613.9 L687.2,612.8 L687.2,611.7 L687.2,610.5 L687.2,609.4 L687.2,608.3 L687.3,607.2 L687.3,606.1 L687.3,604.9 L687.3,603.8 L687.3,602.7 L687.4,601.6 L687.4,600.5 L687.4,599.3 L687.4,598.2 L687.5,597.1 L687.5,596.0 L687.5,594.9 L687.5,593.7 L687.6,592.6 L687.6,591.5 L687.6,590.4 L687.6,589.3 L687.7,588.1 L687.7,587.0 L687.7,585.9 L687.7,584.8 L687.8,583.7 L687.8,582.5 L687.8,581.4 L687.9,580.3 L687.9,579.2 L687.9,578.1 L687.9,576.9 L688.0,575.8 L688.0,574.7 L688.0,573.6 L688.1,572.5 L688.1,571.3 L688.1,570.2 L688.2,569.1 L688.2,568.0 L688.2,566.8 L688.2,565.7 L688.3,564.6 L688.3,563.5 L688.3,562.4 L688.4,561.2 L688.4,560.1 L688.4,559.0 L688.5,557.9 L688.5,556.8 L688.5,555.6 L688.5,554.5 L688.6,553.4 L688.6,552.3 L688.6,551.2 L688.7,550.0 L688.7,548.9 L688.7,547.8 L688.8,546.7 L688.8,545.6 L688.8,544.4 L688.9,543.3 L688.9,542.2 L688.9,541.1 L689.0,540.0 L689.0,538.8 L689.0,537.7 L689.1,536.6 L689.1,535.5 L689.1,534.4 L689.2,533.2 L689.2,532.1 L689.2,531.0 L689.3,529.9 L689.3,528.8 L689.3,527.6 L689.4,526.5 L689.4,525.4 L689.4,524.3 L689.5,523.2 L689.5,522.0 L689.5,520.9 L689.5,519.8 L689.6,518.7 L689.6,517.6 L689.6,516.4 L689.7,515.3 L689.7,514.2 L689.7,513.1 L689.8,512.0 L689.8,510.8 L689.8,509.7 L689.9,508.6 L689.9,507.5 L690.0,506.4 L690.0,505.2 L690.1,504.1 L690.2,503.0 L690.3,501.9 L690.4,500.8 L690.5,499.7 L690.7,498.6 L691.0,497.5 L691.4,496.4 L691.7,495.4 L692.1,494.3 L692.6,493.3 L693.1,492.3 L693.7,491.3 L694.3,490.4 L695.0,489.5 L695.6,488.6 L696.3,487.7 L696.9,486.7 L697.6,485.8 L698.2,484.9 L698.9,484.0 L699.5,483.1 L700.2,482.2 L700.8,481.3 L701.5,480.4 L702.1,479.5 L702.8,478.5 L703.4,477.6 L704.0,476.7 L704.7,475.8 L705.3,474.8 L705.9,473.9 L706.6,473.0 L707.2,472.1 L707.9,471.1 L708.5,470.2 L709.2,469.4 L709.9,468.5 L710.6,467.6 L711.3,466.8 L712.1,465.9 L712.8,465.1 L713.6,464.2 L714.3,463.4 L715.1,462.6 L715.8,461.8 L716.6,461.0 L717.4,460.1 L718.1,459.3 L718.9,458.5 L719.7,457.6 L720.4,456.8 L721.2,456.0 L722.0,455.2 L722.8,454.4 L723.5,453.6 L724.3,452.8 L725.2,452.0 L726.0,451.3 L726.8,450.5 L727.7,449.8 L728.5,449.1 L729.4,448.4 L730.3,447.8 L731.2,447.1 L732.1,446.4 L733.0,445.8 L734.0,445.1 L734.9,444.5 L735.9,443.9 L736.8,443.3 L737.8,442.7 L738.8,442.1 L739.7,441.6 L740.7,441.1 L741.7,440.6 L742.7,440.1 L743.7,439.6 L744.7,439.2 L745.8,438.7 L746.8,438.3 L747.8,437.9 L748.9,437.5 L749.9,437.1 L751.0,436.7 L752.1,436.3 L753.1,435.9 L754.2,435.6 L755.3,435.3 L756.4,435.0 L757.4,434.7 L758.5,434.4 L759.6,434.1 L760.7,433.9 L761.8,433.6 L762.9,433.4 L764.0,433.1 L765.1,432.9 L766.2,432.7 L767.3,432.5 L768.4,432.3 L769.5,432.1 L770.6,431.9 L771.7,431.7 L772.8,431.6 L773.9,431.4 L775.0,431.2 L776.1,431.1 L777.2,430.9 L778.4,430.7 L779.5,430.6 L780.6,430.5 L781.7,430.3 L782.8,430.2 L783.9,430.1 L785.0,430.0 L786.2,430.0 L787.3,429.9 L788.4,429.8 L789.5,429.7 L790.6,429.7 L791.7,429.6 L792.9,429.5 L794.0,429.5 L795.1,429.4 L796.2,429.4 L797.3,429.3 L798.5,429.3 L799.6,429.2 L800.7,429.2 L801.8,429.1 L802.9,429.1 L804.1,429.0 L805.2,429.0 L806.3,428.9 L807.4,428.9 L808.5,428.9 L809.7,428.8 L810.8,428.8 L811.9,428.8 L813.0,428.8 L814.1,428.7 L815.3,428.7 L816.4,428.7 L817.5,428.7 L818.6,428.7 L819.7,428.6 L820.9,428.6 L822.0,428.6 L823.1,428.6 L824.2,428.6 L825.4,428.6 L826.5,428.5 L827.6,428.5 L828.7,428.5 L829.8,428.5 L831.0,428.5 L832.1,428.5 L833.2,428.5 L834.3,428.4 L835.4,428.4 L836.6,428.4 L837.7,428.4 L838.8,428.4 L839.9,428.4 L841.0,428.4 L842.2,428.4 L843.3,428.4 L844.4,428.3 L845.5,428.3 L846.6,428.3 L847.8,428.3 L848.9,428.3 L850.0,428.3 L851.1,428.3 L852.2,428.3 L853.4,428.3 L854.5,428.3 L855.6,428.3 L856.7,428.3 L857.8,428.3 L859.0,428.2 L860.1,428.2 L861.2,428.2 L862.3,428.2 L863.4,428.2 L864.6,428.2 L865.7,428.2 L866.8,428.2 L867.9,428.2 L869.1,428.2 L870.2,428.2 L871.3,428.2 L872.4,428.2 L873.5,428.2 L874.7,428.2 L875.8,428.2 L876.9,428.2 L878.0,428.1 L879.1,428.1 L880.3,428.1 L881.4,428.1 L882.5,428.1 L883.6,428.1 L884.7,428.1 L885.9,428.1 L887.0,428.1 L888.1,428.1 L889.2,428.1 L890.3,428.1 L891.5,428.1 L892.6,428.1 L893.7,428.1 L894.8,428.1 L895.9,428.1 L897.1,428.1 L898.2,428.1 L899.3,428.1 L900.4,428.1 L901.5,428.1 L902.7,428.0 L903.8,428.0 L904.9,428.0 L906.0,428.0 L907.1,428.0 L908.3,428.0 L909.4,428.0 L910.5,428.0 L911.6,428.0 L912.8,428.0 L913.9,428.0 L915.0,428.0 L916.1,428.0 L917.2,428.0 L918.4,428.0 L919.5,428.0 L920.6,428.0 L921.7,428.0 L922.8,428.0 L924.0,428.0 L925.1,428.0 L926.2,428.0 L927.3,428.0" stroke="#e08b1c"/>
</g>
<g clip-path="url(#d2)" fill="none" stroke-width="2.5" stroke-linejoin="round">
<path d="M953.9,680.0 L953.9,678.8 L953.9,677.6 L953.9,676.4 L954.0,675.2 L954.0,674.0 L954.0,672.8 L954.0,671.6 L954.0,670.4 L954.0,669.2 L954.0,668.0 L954.1,666.8 L954.1,665.6 L954.1,664.4 L954.1,663.2 L954.1,662.0 L954.1,660.8 L954.1,659.6 L954.2,658.4 L954.2,657.2 L954.2,656.0 L954.2,654.8 L954.2,653.6 L954.2,652.4 L954.2,651.2 L954.3,649.9 L954.3,648.7 L954.3,647.5 L954.3,646.3 L954.3,645.1 L954.3,643.9 L954.3,642.7 L954.4,641.5 L954.4,640.3 L954.4,639.1 L954.4,637.9 L954.4,636.7 L954.4,635.5 L954.4,634.3 L954.5,633.1 L954.5,631.9 L954.5,630.7 L954.5,629.5 L954.5,628.3 L954.5,627.1 L954.5,625.9 L954.5,624.7 L954.6,623.5 L954.6,622.3 L954.6,621.1 L954.6,619.9 L954.6,618.7 L954.6,617.5 L954.6,616.3 L954.7,615.1 L954.7,613.9 L954.7,612.7 L954.7,611.5 L954.7,610.3 L954.7,609.1 L954.7,607.9 L954.7,606.7 L954.8,605.5 L954.8,604.3 L954.8,603.1 L954.8,601.9 L954.8,600.7 L954.8,599.5 L954.8,598.3 L954.8,597.1 L954.9,595.9 L954.9,594.7 L954.9,593.5 L954.9,592.3 L954.9,591.0 L954.9,589.8 L954.9,588.6 L954.9,587.4 L955.0,586.2 L955.0,585.0 L955.0,583.8 L955.0,582.6 L955.0,581.4 L955.0,580.2 L955.0,579.0 L955.0,577.8 L955.1,576.6 L955.1,575.4 L955.1,574.2 L955.1,573.0 L955.1,571.8 L955.1,570.6 L955.1,569.4 L955.1,568.2 L955.2,567.0 L955.2,565.8 L955.2,564.6 L955.2,563.4 L955.2,562.2 L955.2,561.0 L955.2,559.8 L955.2,558.6 L955.3,557.4 L955.3,556.2 L955.3,555.0 L955.3,553.8 L955.3,552.6 L955.3,551.4 L955.3,550.2 L955.4,549.0 L955.4,547.8 L955.4,546.6 L955.4,545.4 L955.4,544.2 L955.4,543.0 L955.4,541.8 L955.4,540.6 L955.5,539.4 L955.5,538.2 L955.5,537.0 L955.5,535.8 L955.5,534.6 L955.5,533.3 L955.5,532.1 L955.6,530.9 L955.6,529.7 L955.6,528.5 L955.6,527.3 L955.6,526.1 L955.6,524.9 L955.6,523.7 L955.6,522.5 L955.7,521.3 L955.7,520.1 L955.7,518.9 L955.7,517.7 L955.7,516.5 L955.7,515.3 L955.7,514.1 L955.8,512.9 L955.8,511.7 L955.8,510.5 L955.8,509.3 L955.8,508.1 L955.8,506.9 L955.9,505.7 L955.9,504.5 L955.9,503.3 L955.9,502.1 L955.9,500.9 L956.0,499.7 L956.0,498.5 L956.0,497.3 L956.0,496.1 L956.1,494.9 L956.1,493.7 L956.1,492.5 L956.2,491.3 L956.2,490.1 L956.2,488.9 L956.3,487.7 L956.3,486.5 L956.3,485.3 L956.3,484.1 L956.4,482.9 L956.4,481.7 L956.4,480.5 L956.5,479.3 L956.5,478.1 L956.5,476.9 L956.6,475.7 L956.6,474.5 L956.6,473.3 L956.7,472.1 L956.7,470.8 L956.7,469.6 L956.7,468.4 L956.8,467.2 L956.8,466.0 L956.8,464.8 L956.8,463.6 L956.8,462.4 L956.9,461.2 L956.9,460.0 L956.9,458.8 L956.9,457.6 L956.9,456.4 L957.0,455.2 L957.0,454.0 L957.0,452.8 L957.0,451.6 L957.1,450.4 L957.1,449.2 L957.1,448.0 L957.2,446.8 L957.2,445.6 L957.3,444.4 L957.3,443.2 L957.4,442.0 L957.5,440.8 L957.7,439.6 L958.1,438.4 L958.9,437.7 L960.0,437.3 L961.2,437.1 L962.4,436.9 L963.6,436.8 L964.8,436.7 L966.0,436.5 L967.2,436.4 L968.4,436.3 L969.6,436.2 L970.8,436.1 L972.0,436.0 L973.2,435.8 L974.4,435.7 L975.6,435.6 L976.8,435.5 L978.0,435.5 L979.2,435.4 L980.4,435.3 L981.6,435.2 L982.8,435.1 L984.0,435.0 L985.2,434.9 L986.4,434.8 L987.6,434.7 L988.8,434.6 L990.0,434.6 L991.2,434.5 L992.4,434.4 L993.6,434.3 L994.8,434.2 L996.0,434.1 L997.2,434.0 L998.4,433.9 L999.6,433.8 L1000.8,433.7 L1002.0,433.6 L1003.2,433.5 L1004.4,433.4 L1005.6,433.3 L1006.8,433.2 L1008.0,433.1 L1009.1,432.9 L1010.3,432.8 L1011.5,432.7 L1012.7,432.6 L1013.9,432.5 L1015.1,432.4 L1016.3,432.3 L1017.5,432.2 L1018.7,432.0 L1019.9,431.9 L1021.1,431.8 L1022.3,431.7 L1023.5,431.6 L1024.7,431.5 L1025.9,431.4 L1027.1,431.3 L1028.3,431.2 L1029.5,431.1 L1030.7,430.9 L1031.9,430.8 L1033.1,430.7 L1034.3,430.6 L1035.5,430.5 L1036.7,430.4 L1037.9,430.3 L1039.1,430.2 L1040.3,430.1 L1041.5,430.0 L1042.7,430.0 L1043.9,429.9 L1045.1,429.8 L1046.3,429.7 L1047.5,429.6 L1048.7,429.5 L1049.9,429.4 L1051.1,429.3 L1052.3,429.2 L1053.5,429.1 L1054.7,429.0 L1055.9,429.0 L1057.1,428.9 L1058.3,428.8 L1059.5,428.7 L1060.7,428.6 L1061.9,428.5 L1063.1,428.4 L1064.3,428.4 L1065.5,428.3 L1066.7,428.2 L1067.9,428.1 L1069.1,428.0 L1070.3,428.0 L1071.5,427.9 L1072.7,427.8 L1073.9,427.7 L1075.1,427.7 L1076.3,427.6 L1077.5,427.5 L1078.7,427.4 L1079.9,427.4 L1081.1,427.3 L1082.3,427.2 L1083.5,427.2 L1084.7,427.1 L1085.9,427.0 L1087.1,426.9 L1088.3,426.9 L1089.5,426.8 L1090.7,426.7 L1091.9,426.7 L1093.1,426.6 L1094.3,426.5 L1095.5,426.5 L1096.7,426.4 L1097.9,426.4 L1099.1,426.3 L1100.3,426.2 L1101.5,426.2 L1102.7,426.1 L1103.9,426.0 L1105.1,426.0 L1106.3,425.9 L1107.5,425.9 L1108.7,425.8 L1109.9,425.8 L1111.1,425.7 L1112.3,425.7 L1113.5,425.6 L1114.7,425.5 L1115.9,425.5 L1117.1,425.5 L1118.3,425.4 L1119.5,425.4 L1120.7,425.3 L1121.9,425.3 L1123.1,425.2 L1124.3,425.2 L1125.5,425.1 L1126.7,425.1 L1127.9,425.0 L1129.1,425.0 L1130.3,425.0 L1131.5,424.9 L1132.7,424.9 L1133.9,424.8 L1135.1,424.8 L1136.3,424.8 L1137.5,424.7 L1138.7,424.7 L1139.9,424.7 L1141.1,424.6 L1142.3,424.6 L1143.5,424.5 L1144.7,424.5 L1145.9,424.5 L1147.1,424.4 L1148.3,424.4 L1149.5,424.4 L1150.7,424.3 L1151.9,424.3 L1153.1,424.3 L1154.3,424.3 L1155.5,424.2 L1156.7,424.2 L1157.9,424.2 L1159.1,424.1 L1160.3,424.1 L1161.5,424.1 L1162.7,424.1 L1163.9,424.0 L1165.1,424.0 L1166.3,424.0 L1167.5,424.0 L1168.7,423.9 L1169.9,423.9 L1171.1,423.9 L1172.3,423.9 L1173.5,423.8 L1174.7,423.8 L1175.9,423.8 L1177.2,423.8 L1178.4,423.7 L1179.6,423.7 L1180.8,423.7 L1182.0,423.7 L1183.2,423.7 L1184.4,423.6 L1185.6,423.6 L1186.8,423.6 L1188.0,423.6 L1189.2,423.6 L1190.4,423.6 L1191.6,423.5 L1192.8,423.5 L1194.0,423.5 L1195.2,423.5" stroke="#27366b"/>
<path d="M954.2,680.0 L954.2,678.9 L954.2,677.8 L954.2,676.7 L954.3,675.6 L954.3,674.5 L954.3,673.4 L954.3,672.3 L954.3,671.2 L954.3,670.1 L954.4,669.0 L954.4,667.9 L954.4,666.8 L954.4,665.7 L954.4,664.6 L954.4,663.5 L954.4,662.4 L954.5,661.3 L954.5,660.2 L954.5,659.1 L954.5,658.0 L954.5,656.9 L954.5,655.8 L954.5,654.7 L954.6,653.6 L954.6,652.5 L954.6,651.4 L954.6,650.3 L954.6,649.2 L954.6,648.1 L954.7,647.0 L954.7,645.9 L954.7,644.8 L954.7,643.6 L954.7,642.5 L954.7,641.4 L954.7,640.3 L954.8,639.2 L954.8,638.1 L954.8,637.0 L954.8,635.9 L954.8,634.8 L954.8,633.7 L954.8,632.6 L954.9,631.5 L954.9,630.4 L954.9,629.3 L954.9,628.2 L954.9,627.1 L954.9,626.0 L954.9,624.9 L955.0,623.8 L955.0,622.7 L955.0,621.6 L955.0,620.5 L955.0,619.4 L955.0,618.3 L955.0,617.2 L955.0,616.1 L955.1,615.0 L955.1,613.9 L955.1,612.8 L955.1,611.7 L955.1,610.6 L955.1,609.5 L955.1,608.4 L955.1,607.3 L955.2,606.2 L955.2,605.1 L955.2,604.0 L955.2,602.9 L955.2,601.8 L955.2,600.7 L955.2,599.6 L955.2,598.5 L955.2,597.4 L955.3,596.3 L955.3,595.2 L955.3,594.1 L955.3,593.0 L955.3,591.9 L955.3,590.8 L955.3,589.7 L955.3,588.6 L955.3,587.5 L955.4,586.4 L955.4,585.3 L955.4,584.2 L955.4,583.1 L955.4,582.0 L955.4,580.9 L955.4,579.8 L955.4,578.7 L955.4,577.6 L955.5,576.5 L955.5,575.4 L955.5,574.3 L955.5,573.1 L955.5,572.0 L955.5,570.9 L955.5,569.8 L955.5,568.7 L955.6,567.6 L955.6,566.5 L955.6,565.4 L955.6,564.3 L955.6,563.2 L955.6,562.1 L955.6,561.0 L955.7,559.9 L955.7,558.8 L955.7,557.7 L955.7,556.6 L955.7,555.5 L955.7,554.4 L955.8,553.3 L955.8,552.2 L955.8,551.1 L955.8,550.0 L955.8,548.9 L955.8,547.8 L955.9,546.7 L955.9,545.6 L955.9,544.5 L955.9,543.4 L956.0,542.3 L956.0,541.2 L956.0,540.1 L956.0,539.0 L956.1,537.9 L956.1,536.8 L956.1,535.7 L956.2,534.6 L956.2,533.5 L956.2,532.4 L956.3,531.3 L956.3,530.2 L956.3,529.1 L956.4,528.0 L956.4,526.9 L956.5,525.8 L956.5,524.7 L956.6,523.6 L956.6,522.5 L956.6,521.4 L956.7,520.3 L956.7,519.2 L956.8,518.1 L956.8,517.0 L956.9,515.9 L956.9,514.8 L957.0,513.7 L957.0,512.6 L957.1,511.5 L957.1,510.4 L957.2,509.3 L957.3,508.2 L957.4,507.1 L957.5,506.0 L957.7,504.8 L957.9,503.7 L958.3,502.8 L959.3,502.2 L960.2,502.6 L961.3,503.1 L962.3,503.6 L963.3,504.0 L964.3,504.5 L965.3,504.9 L966.3,505.4 L967.3,505.9 L968.3,506.3 L969.3,506.8 L970.3,507.2 L971.3,507.7 L972.3,508.2 L973.3,508.6 L974.3,509.1 L975.3,509.5 L976.3,510.0 L977.3,510.5 L978.3,510.9 L979.3,511.4 L980.3,511.9 L981.3,512.3 L982.3,512.8 L983.3,513.3 L984.3,513.7 L985.3,514.2 L986.3,514.7 L987.3,515.1 L988.3,515.6 L989.3,516.1 L990.3,516.5 L991.3,517.0 L992.3,517.5 L993.3,517.9 L994.3,518.4 L995.3,518.9 L996.3,519.3 L997.3,519.8 L998.3,520.3 L999.2,520.7 L1000.2,521.2 L1001.2,521.7 L1002.2,522.1 L1003.2,522.6 L1004.2,523.1 L1005.2,523.5 L1006.2,524.0 L1007.2,524.5 L1008.2,524.9 L1009.2,525.4 L1010.2,525.9 L1011.2,526.3 L1012.2,526.8 L1013.2,527.3 L1014.2,527.7 L1015.2,528.2 L1016.2,528.7 L1017.2,529.1 L1018.2,529.6 L1019.2,530.1 L1020.2,530.5 L1021.2,531.0 L1022.2,531.5 L1023.2,531.9 L1024.2,532.4 L1025.2,532.9 L1026.2,533.3 L1027.2,533.8 L1028.2,534.3 L1029.2,534.7 L1030.2,535.2 L1031.2,535.7 L1032.2,536.1 L1033.2,536.6 L1034.2,537.1 L1035.2,537.6 L1036.2,538.0 L1037.2,538.5 L1038.1,539.0 L1039.1,539.4 L1040.1,539.9 L1041.1,540.4 L1042.1,540.8 L1043.1,541.3 L1044.1,541.8 L1045.1,542.2 L1046.1,542.7 L1047.1,543.2 L1048.1,543.6 L1049.1,544.1 L1050.1,544.6 L1051.1,545.1 L1052.1,545.5 L1053.1,546.0 L1054.1,546.5 L1055.1,546.9 L1056.1,547.4 L1057.1,547.9 L1058.1,548.3 L1059.1,548.8 L1060.1,549.3 L1061.1,549.8 L1062.1,550.2 L1063.1,550.7 L1064.1,551.2 L1065.1,551.6 L1066.1,552.1 L1067.0,552.6 L1068.0,553.0 L1069.0,553.5 L1070.0,554.0 L1071.0,554.5 L1072.0,554.9 L1073.0,555.4 L1074.0,555.9 L1075.0,556.3 L1076.0,556.8 L1077.0,557.3 L1078.0,557.8 L1079.0,558.2 L1080.0,558.7 L1081.0,559.2 L1082.0,559.6 L1083.0,560.1 L1084.0,560.6 L1085.0,561.1 L1086.0,561.5 L1087.0,562.0 L1088.0,562.5 L1089.0,562.9 L1089.9,563.4 L1090.9,563.9 L1091.9,564.4 L1092.9,564.8 L1093.9,565.3 L1094.9,565.8 L1095.9,566.2 L1096.9,566.7 L1097.9,567.2 L1098.9,567.7 L1099.9,568.1 L1100.9,568.6 L1101.9,569.1 L1102.9,569.6 L1103.9,570.0 L1104.9,570.5 L1105.9,571.0 L1106.9,571.5 L1107.9,571.9 L1108.9,572.4 L1109.8,572.9 L1110.8,573.4 L1111.8,573.8 L1112.8,574.3 L1113.8,574.8 L1114.8,575.2 L1115.8,575.7 L1116.8,576.2 L1117.8,576.7 L1118.8,577.1 L1119.8,577.6 L1120.8,578.1 L1121.8,578.6 L1122.8,579.0 L1123.8,579.5 L1124.8,580.0 L1125.8,580.5 L1126.7,580.9 L1127.7,581.4 L1128.7,581.9 L1129.7,582.4 L1130.7,582.8 L1131.7,583.3 L1132.7,583.8 L1133.7,584.3 L1134.7,584.8 L1135.7,585.2 L1136.7,585.7 L1137.7,586.2 L1138.7,586.7 L1139.7,587.1 L1140.7,587.6 L1141.6,588.1 L1142.6,588.6 L1143.6,589.0 L1144.6,589.5 L1145.6,590.0 L1146.6,590.5 L1147.6,591.0 L1148.6,591.4 L1149.6,591.9 L1150.6,592.4 L1151.6,592.9 L1152.6,593.3 L1153.6,593.8 L1154.6,594.3 L1155.5,594.8 L1156.5,595.3 L1157.5,595.7 L1158.5,596.2 L1159.5,596.7 L1160.5,597.2 L1161.5,597.6 L1162.5,598.1 L1163.5,598.6 L1164.5,599.1 L1165.5,599.6 L1166.5,600.0 L1167.5,600.5 L1168.4,601.0 L1169.4,601.5 L1170.4,602.0 L1171.4,602.4 L1172.4,602.9 L1173.4,603.4 L1174.4,603.9 L1175.4,604.4 L1176.4,604.8 L1177.4,605.3 L1178.4,605.8 L1179.3,606.3 L1180.3,606.8 L1181.3,607.3 L1182.3,607.7 L1183.3,608.2 L1184.3,608.7 L1185.3,609.2 L1186.3,609.7 L1187.3,610.1 L1188.3,610.6 L1189.3,611.1 L1190.2,611.6 L1191.2,612.1 L1192.2,612.6 L1193.2,613.0 L1194.2,613.5 L1195.2,614.0" stroke="#e08b1c"/>
</g>
<rect x="675.2" y="421.2" width="257.4" height="256.59999999999997" fill="none" stroke="#000" stroke-width="1.7"/>
<rect x="942.6" y="421.2" width="256.6" height="256.59999999999997" fill="none" stroke="#000" stroke-width="1.7"/>
<path d="M675.2,549.5 h4.2 M932.6,549.5 h-4.2 M675.2,510.9 h2.4 M932.6,510.9 h-2.4 M675.2,488.3 h2.4 M932.6,488.3 h-2.4 M675.2,472.3 h2.4 M932.6,472.3 h-2.4 M675.2,459.8 h2.4 M932.6,459.8 h-2.4 M675.2,449.7 h2.4 M932.6,449.7 h-2.4 M675.2,441.1 h2.4 M932.6,441.1 h-2.4 M675.2,433.6 h2.4 M932.6,433.6 h-2.4 M675.2,427.1 h2.4 M932.6,427.1 h-2.4 M675.2,677.8 h4.2 M932.6,677.8 h-4.2 M675.2,639.2 h2.4 M932.6,639.2 h-2.4 M675.2,616.6 h2.4 M932.6,616.6 h-2.4 M675.2,600.6 h2.4 M932.6,600.6 h-2.4 M675.2,588.1 h2.4 M932.6,588.1 h-2.4 M675.2,578.0 h2.4 M932.6,578.0 h-2.4 M675.2,569.4 h2.4 M932.6,569.4 h-2.4 M675.2,561.9 h2.4 M932.6,561.9 h-2.4 M675.2,555.4 h2.4 M932.6,555.4 h-2.4" stroke="#000" stroke-width="1.2"/>
<path d="M680.0,677.8 v-4 M680.0,421.2 v4" stroke="#000" stroke-width="1.2"/>
<path d="M803.6,677.8 v-4 M803.6,421.2 v4" stroke="#000" stroke-width="1.2"/>
<path d="M927.2,677.8 v-4 M927.2,421.2 v4" stroke="#000" stroke-width="1.2"/>
<text x="667" y="427.6" class="t" text-anchor="end">10<tspan class="sup" dy="-10.3">0</tspan></text>
<text x="664.6" y="556.5" class="t" text-anchor="end">10<tspan class="sup" dy="-10.3">−1</tspan></text>
<text x="664.6" y="683.2" class="t" text-anchor="end">10<tspan class="sup" dy="-10.3">−2</tspan></text>
<text x="679.5" y="703.8" class="t" text-anchor="middle">0</text>
<text x="803.7" y="703.8" class="t" text-anchor="middle">25</text>
<text x="928" y="703.8" class="t" text-anchor="middle">50</text>
<text x="803.5" y="733.8" class="t" text-anchor="middle">Days</text>
<text transform="translate(607,548) rotate(-90)" class="t" text-anchor="middle">Fraction cells</text>
<text x="893.5" y="460.2" class="ti" style="color:#d9821a;stroke-width:.1px">S<tspan class="sup" dy="-9">1</tspan></text>
<text x="893" y="536" class="ti" style="color:#28536a;stroke-width:.1px">S<tspan class="sup" dy="-9">0</tspan></text>
<text x="697.5" y="632" class="t">Plasmid persistence</text>
<text x="963.8" y="632" class="t">Plasmid elimination</text>
<text y="660.3" class="p"><tspan x="699.2">(</tspan><tspan class="g" x="705.4000000000001">η</tspan><tspan class="subn" x="715.5" dy="5.2">C</tspan><tspan class="op" x="728.8000000000001" dy="-5.2">&gt;</tspan><tspan class="g" x="743.8000000000001">η</tspan><tspan class="subn" x="754.8000000000001" dy="5.2">Crit</tspan><tspan x="781.4000000000001" dy="-5.2">)</tspan></text>
<text y="660.3" class="p"><tspan x="965">(</tspan><tspan class="g" x="971.2">η</tspan><tspan class="subn" x="981.3" dy="5.2">C</tspan><tspan class="op" x="994.6" dy="-5.2">&lt;</tspan><tspan class="g" x="1009.6">η</tspan><tspan class="subn" x="1020.6" dy="5.2">Crit</tspan><tspan x="1047.2" dy="-5.2">)</tspan></text>
<text y="404.7" class="g"><tspan x="730.3">η</tspan><tspan class="subn" x="741" dy="6">Crit</tspan><tspan class="op" dy="-4" x="771.2">=</tspan><tspan class="g2" x="783.8" dy="-2">α</tspan><tspan class="tit" x="798.5">(</tspan><tspan class="g2" x="804.2">κ</tspan><tspan class="tit" x="817">+</tspan><tspan class="tit" x="848">)</tspan><tspan class="tit" x="855.2">−</tspan></text>
<text transform="translate(830.3,404.7) scale(1.18,1)" class="tit">D</text>
<text transform="translate(869.3,404.7) scale(1.18,1)" class="tit">D</text>
</g>
</svg>
</body></html>
